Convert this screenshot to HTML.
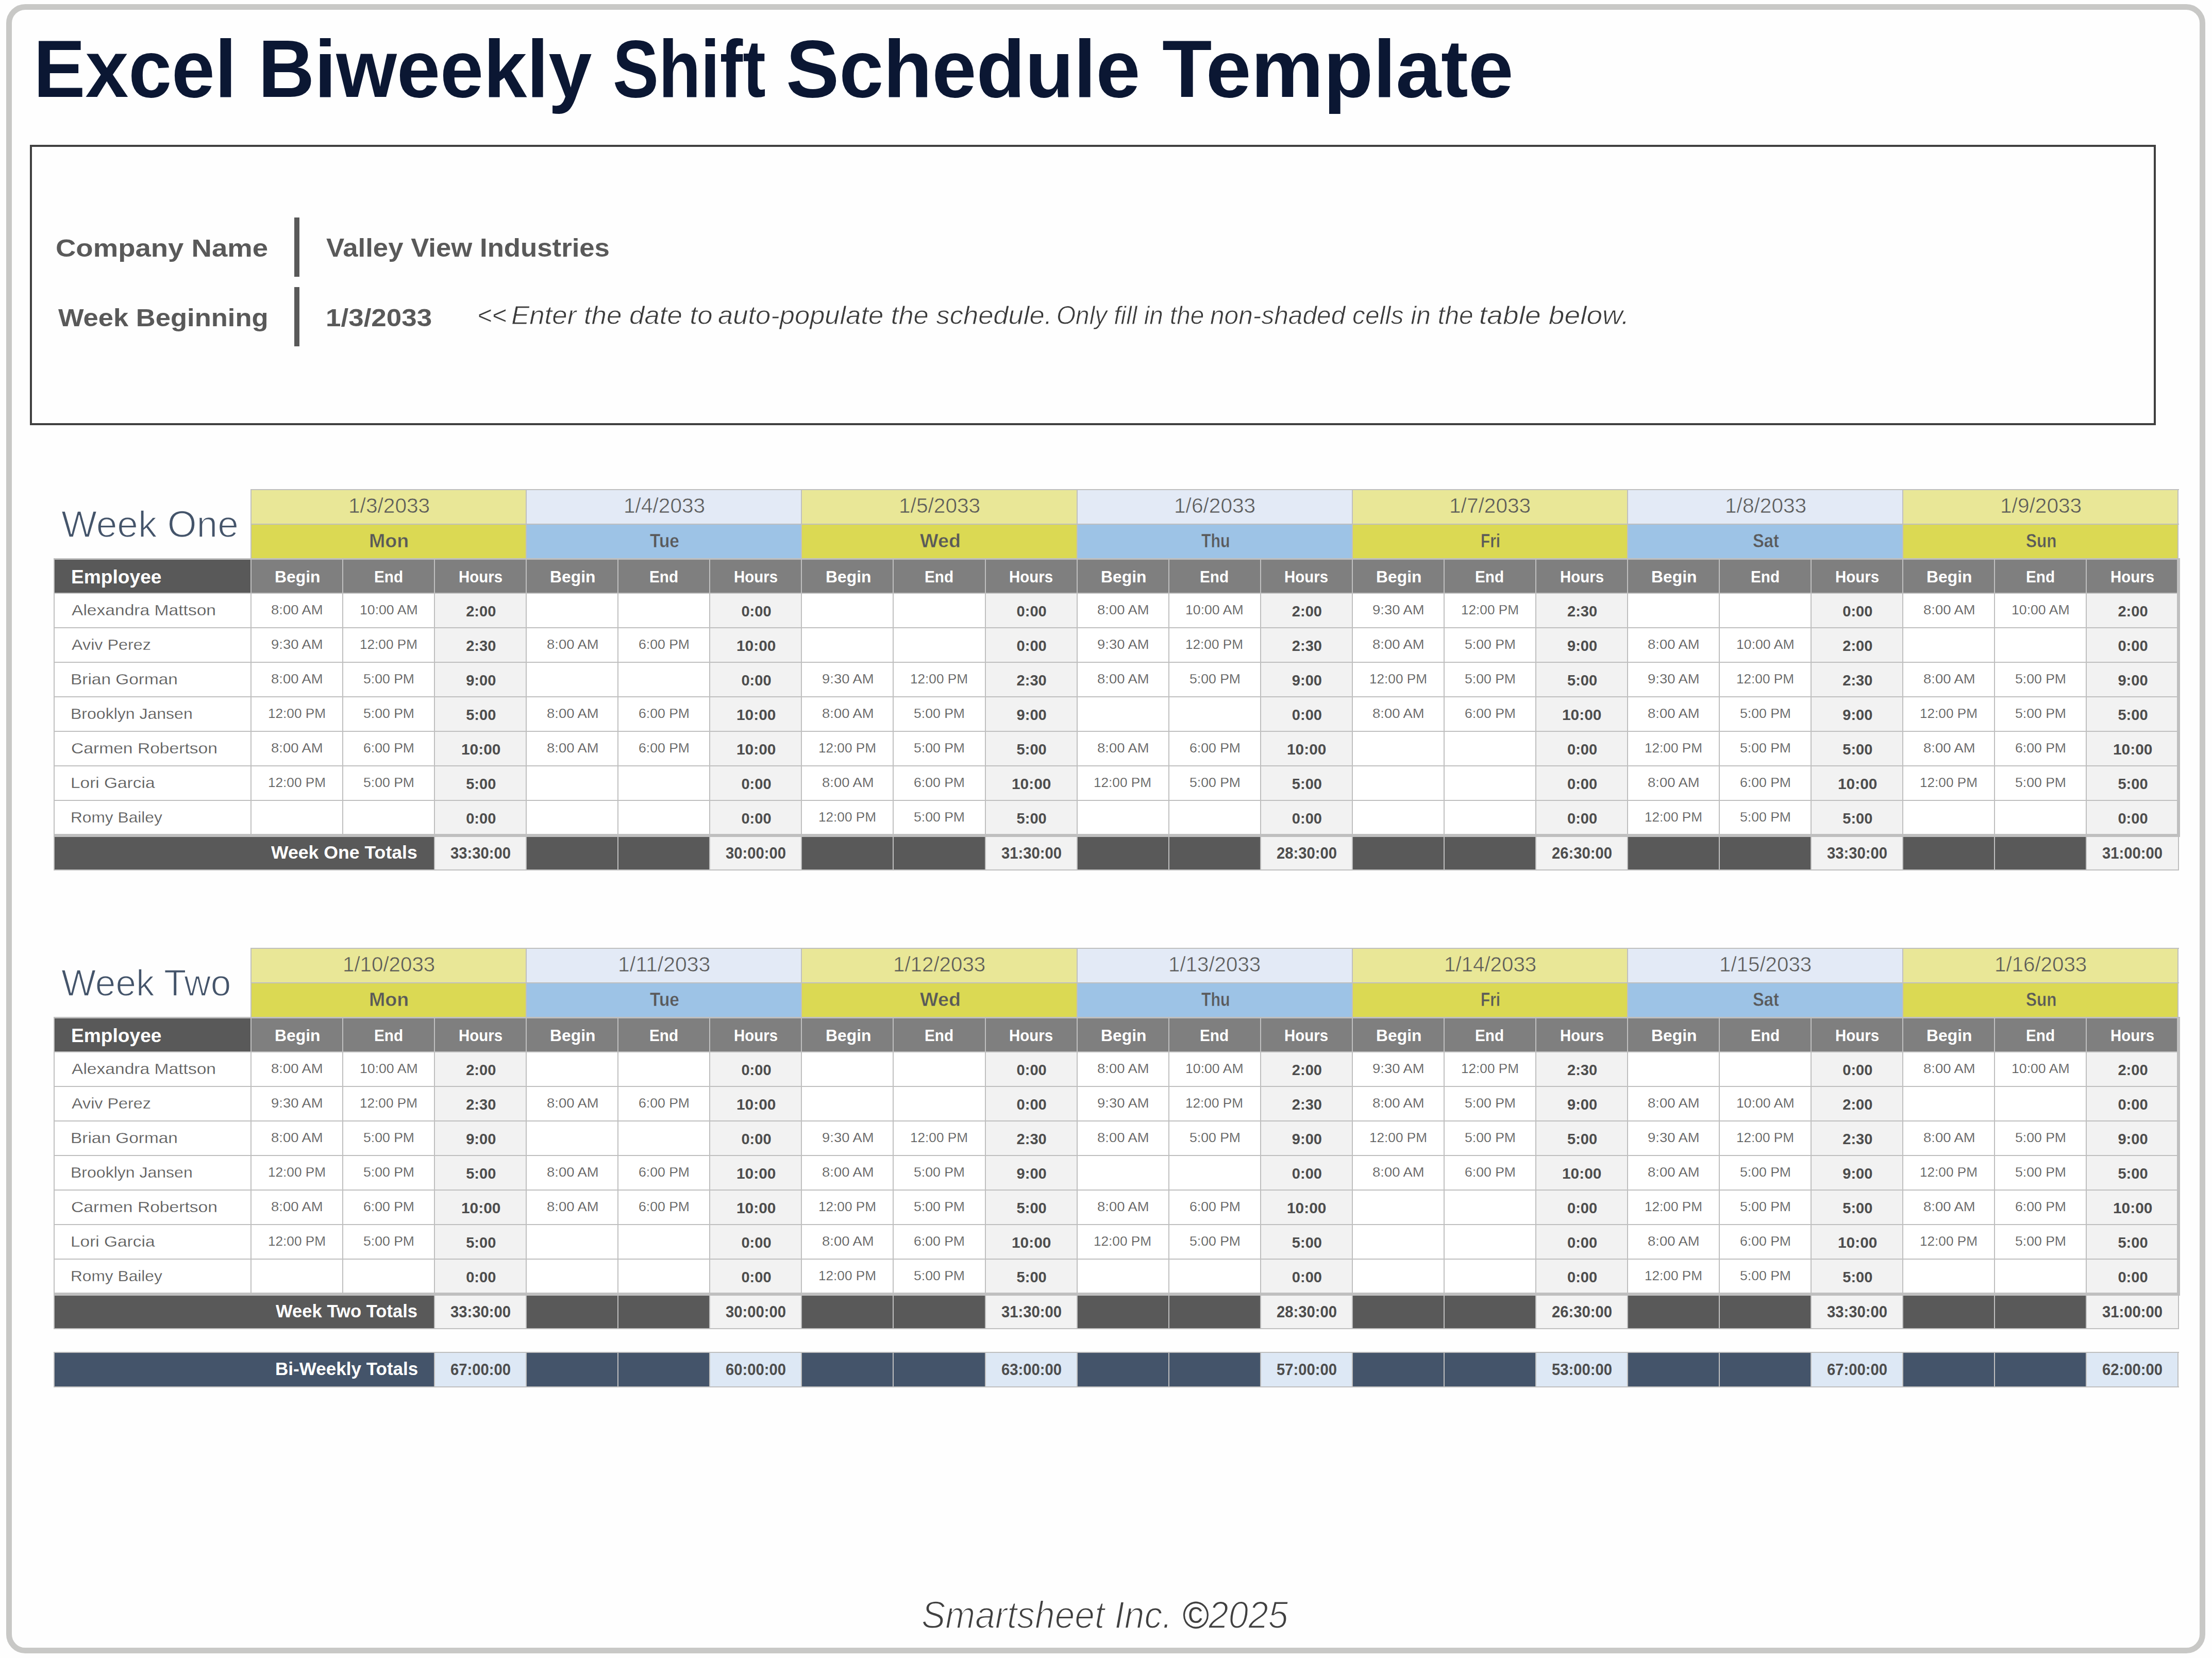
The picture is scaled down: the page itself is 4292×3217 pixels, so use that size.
<!DOCTYPE html>
<html><head><meta charset="utf-8"><title>Excel Biweekly Shift Schedule Template</title>
<style>
html,body{margin:0;padding:0;}
body{width:4292px;height:3217px;position:relative;overflow:hidden;background:#fefefe;font-family:"Liberation Sans",sans-serif;}
.a{position:absolute;}
.t{position:absolute;white-space:nowrap;transform-origin:0 0;}
</style></head><body>
<div class="a" style="left:12px;top:8px;width:4267px;height:3200px;box-sizing:border-box;border:11px solid #c8c8c6;border-radius:37px;"></div>
<div class="t" style="left:64.80px;top:55.00px;font-size:156.98px;line-height:156.98px;color:#0b1733;font-weight:700;transform:scaleX(0.9599);">Excel</div>
<div class="t" style="left:500.56px;top:55.00px;font-size:156.98px;line-height:156.98px;color:#0b1733;font-weight:700;transform:scaleX(0.9637);">Biweekly</div>
<div class="t" style="left:1189.05px;top:55.00px;font-size:156.98px;line-height:156.98px;color:#0b1733;font-weight:700;transform:scaleX(0.8506);">Shift</div>
<div class="t" style="left:1525.37px;top:55.00px;font-size:156.98px;line-height:156.98px;color:#0b1733;font-weight:700;transform:scaleX(0.9850);">Schedule</div>
<div class="t" style="left:2254.99px;top:55.00px;font-size:156.98px;line-height:156.98px;color:#0b1733;font-weight:700;transform:scaleX(1.0060);">Template</div>
<div class="a" style="left:58px;top:281px;width:4125px;height:544px;box-sizing:border-box;border:4px solid #404040;"></div>
<div class="t" style="left:107.73px;top:458.00px;font-size:47.97px;line-height:47.97px;color:#595959;font-weight:700;transform:scaleX(1.1365);">Company Name</div>
<div class="t" style="left:113.00px;top:593.00px;font-size:47.97px;line-height:47.97px;color:#595959;font-weight:700;transform:scaleX(1.0949);">Week Beginning</div>
<div class="a" style="left:571px;top:422px;width:10px;height:115px;background:#595959;"></div>
<div class="a" style="left:571px;top:557px;width:10px;height:115px;background:#595959;"></div>
<div class="t" style="left:632.50px;top:456.00px;font-size:49.42px;line-height:49.42px;color:#595959;font-weight:700;transform:scaleX(1.0671);">Valley View Industries</div>
<div class="t" style="left:632.29px;top:593.00px;font-size:47.97px;line-height:47.97px;color:#595959;font-weight:700;transform:scaleX(1.1044);">1/3/2033</div>
<div class="t" style="left:925.61px;top:588.40px;font-size:49.13px;line-height:49.13px;color:#3a3a3a;font-style:italic;transform:scaleX(0.9962);-webkit-text-stroke:0.8px #fefefe;">&lt;&lt;</div>
<div class="t" style="left:991.92px;top:588.40px;font-size:49.13px;line-height:49.13px;color:#3a3a3a;font-style:italic;transform:scaleX(1.0753);-webkit-text-stroke:0.8px #fefefe;">Enter the date to</div>
<div class="t" style="left:1392.93px;top:588.40px;font-size:49.13px;line-height:49.13px;color:#3a3a3a;font-style:italic;transform:scaleX(1.0691);-webkit-text-stroke:0.8px #fefefe;">auto-populate the schedule.</div>
<div class="t" style="left:2049.89px;top:588.40px;font-size:49.13px;line-height:49.13px;color:#3a3a3a;font-style:italic;transform:scaleX(0.9710);-webkit-text-stroke:0.8px #fefefe;">Only fill in the</div>
<div class="t" style="left:2348.19px;top:588.40px;font-size:49.13px;line-height:49.13px;color:#3a3a3a;font-style:italic;transform:scaleX(1.0109);-webkit-text-stroke:0.8px #fefefe;">non-shaded cells in the</div>
<div class="t" style="left:2870.16px;top:588.40px;font-size:49.13px;line-height:49.13px;color:#3a3a3a;font-style:italic;transform:scaleX(1.1223);-webkit-text-stroke:0.8px #fefefe;">table below.</div>
<div class="t" style="left:1787.65px;top:3096.40px;font-size:75.00px;line-height:75.00px;color:#404040;font-style:italic;transform:scaleX(0.9262);-webkit-text-stroke:2.0px #fefefe;">Smartsheet Inc. <span style="-webkit-text-stroke:0">©</span>2025</div>
<div class="a" style="left:487px;top:950px;width:534.21px;height:67px;background:#e9e797;"></div>
<div class="a" style="left:487px;top:1017px;width:534.21px;height:67px;background:#dbd953;"></div>
<div class="a" style="left:1021.21px;top:950px;width:534.21px;height:67px;background:#e3eaf6;"></div>
<div class="a" style="left:1021.21px;top:1017px;width:534.21px;height:67px;background:#9dc3e6;"></div>
<div class="a" style="left:1555.42px;top:950px;width:534.21px;height:67px;background:#e9e797;"></div>
<div class="a" style="left:1555.42px;top:1017px;width:534.21px;height:67px;background:#dbd953;"></div>
<div class="a" style="left:2089.63px;top:950px;width:534.21px;height:67px;background:#e3eaf6;"></div>
<div class="a" style="left:2089.63px;top:1017px;width:534.21px;height:67px;background:#9dc3e6;"></div>
<div class="a" style="left:2623.84px;top:950px;width:534.21px;height:67px;background:#e9e797;"></div>
<div class="a" style="left:2623.84px;top:1017px;width:534.21px;height:67px;background:#dbd953;"></div>
<div class="a" style="left:3158.05px;top:950px;width:534.21px;height:67px;background:#e3eaf6;"></div>
<div class="a" style="left:3158.05px;top:1017px;width:534.21px;height:67px;background:#9dc3e6;"></div>
<div class="a" style="left:3692.26px;top:950px;width:534.21px;height:67px;background:#e9e797;"></div>
<div class="a" style="left:3692.26px;top:1017px;width:534.21px;height:67px;background:#dbd953;"></div>
<div class="a" style="left:105px;top:1084px;width:382px;height:67px;background:#595959;"></div>
<div class="a" style="left:487px;top:1084px;width:3740px;height:67px;background:#7f7f7f;"></div>
<div class="a" style="left:105px;top:1151px;width:4122px;height:469.5px;background:#ffffff;"></div>
<div class="a" style="left:843.14px;top:1151px;width:178.07px;height:469.5px;background:#f2f2f2;"></div>
<div class="a" style="left:1377.35px;top:1151px;width:178.07px;height:469.5px;background:#f2f2f2;"></div>
<div class="a" style="left:1911.56px;top:1151px;width:178.07px;height:469.5px;background:#f2f2f2;"></div>
<div class="a" style="left:2445.77px;top:1151px;width:178.07px;height:469.5px;background:#f2f2f2;"></div>
<div class="a" style="left:2979.98px;top:1151px;width:178.07px;height:469.5px;background:#f2f2f2;"></div>
<div class="a" style="left:3514.19px;top:1151px;width:178.07px;height:469.5px;background:#f2f2f2;"></div>
<div class="a" style="left:4048.4px;top:1151px;width:178.07px;height:469.5px;background:#f2f2f2;"></div>
<div class="a" style="left:105px;top:1620.5px;width:4122px;height:67.5px;background:#595959;"></div>
<div class="a" style="left:843.14px;top:1620.5px;width:178.07px;height:67.5px;background:#f2f2f2;"></div>
<div class="a" style="left:1377.35px;top:1620.5px;width:178.07px;height:67.5px;background:#f2f2f2;"></div>
<div class="a" style="left:1911.56px;top:1620.5px;width:178.07px;height:67.5px;background:#f2f2f2;"></div>
<div class="a" style="left:2445.77px;top:1620.5px;width:178.07px;height:67.5px;background:#f2f2f2;"></div>
<div class="a" style="left:2979.98px;top:1620.5px;width:178.07px;height:67.5px;background:#f2f2f2;"></div>
<div class="a" style="left:3514.19px;top:1620.5px;width:178.07px;height:67.5px;background:#f2f2f2;"></div>
<div class="a" style="left:4048.4px;top:1620.5px;width:178.07px;height:67.5px;background:#f2f2f2;"></div>
<div class="a" style="left:486px;top:949px;width:3742px;height:2px;background:#bfbfbf;"></div>
<div class="a" style="left:486px;top:1016px;width:3742px;height:2px;background:#bfbfbf;"></div>
<div class="a" style="left:104px;top:1083px;width:4124px;height:3px;background:#bfbfbf;"></div>
<div class="a" style="left:104px;top:1150px;width:4124px;height:2px;background:#bfbfbf;"></div>
<div class="a" style="left:104px;top:1217px;width:4124px;height:2px;background:#bfbfbf;"></div>
<div class="a" style="left:104px;top:1284px;width:4124px;height:2px;background:#bfbfbf;"></div>
<div class="a" style="left:104px;top:1351px;width:4124px;height:2px;background:#bfbfbf;"></div>
<div class="a" style="left:104px;top:1418px;width:4124px;height:2px;background:#bfbfbf;"></div>
<div class="a" style="left:104px;top:1485px;width:4124px;height:2px;background:#bfbfbf;"></div>
<div class="a" style="left:104px;top:1552px;width:4124px;height:2px;background:#bfbfbf;"></div>
<div class="a" style="left:104px;top:1617.5px;width:4126px;height:6.5px;background:#bfbfbf;"></div>
<div class="a" style="left:104px;top:1687px;width:4124px;height:2px;background:#bfbfbf;"></div>
<div class="a" style="left:104px;top:1083px;width:2px;height:606px;background:#bfbfbf;"></div>
<div class="a" style="left:486px;top:949px;width:2px;height:135px;background:#bfbfbf;"></div>
<div class="a" style="left:1020.21px;top:949px;width:2px;height:135px;background:#bfbfbf;"></div>
<div class="a" style="left:1554.42px;top:949px;width:2px;height:135px;background:#bfbfbf;"></div>
<div class="a" style="left:2088.63px;top:949px;width:2px;height:135px;background:#bfbfbf;"></div>
<div class="a" style="left:2622.84px;top:949px;width:2px;height:135px;background:#bfbfbf;"></div>
<div class="a" style="left:3157.05px;top:949px;width:2px;height:135px;background:#bfbfbf;"></div>
<div class="a" style="left:3691.26px;top:949px;width:2px;height:135px;background:#bfbfbf;"></div>
<div class="a" style="left:4225.47px;top:949px;width:2px;height:135px;background:#bfbfbf;"></div>
<div class="a" style="left:486px;top:1084px;width:2px;height:536.5px;background:#bfbfbf;"></div>
<div class="a" style="left:664.07px;top:1084px;width:2px;height:536.5px;background:#bfbfbf;"></div>
<div class="a" style="left:842.14px;top:1084px;width:2px;height:604px;background:#bfbfbf;"></div>
<div class="a" style="left:1020.21px;top:1084px;width:2px;height:604px;background:#bfbfbf;"></div>
<div class="a" style="left:1198.28px;top:1084px;width:2px;height:604px;background:#bfbfbf;"></div>
<div class="a" style="left:1376.35px;top:1084px;width:2px;height:604px;background:#bfbfbf;"></div>
<div class="a" style="left:1554.42px;top:1084px;width:2px;height:604px;background:#bfbfbf;"></div>
<div class="a" style="left:1732.49px;top:1084px;width:2px;height:604px;background:#bfbfbf;"></div>
<div class="a" style="left:1910.56px;top:1084px;width:2px;height:604px;background:#bfbfbf;"></div>
<div class="a" style="left:2088.63px;top:1084px;width:2px;height:604px;background:#bfbfbf;"></div>
<div class="a" style="left:2266.7px;top:1084px;width:2px;height:604px;background:#bfbfbf;"></div>
<div class="a" style="left:2444.77px;top:1084px;width:2px;height:604px;background:#bfbfbf;"></div>
<div class="a" style="left:2622.84px;top:1084px;width:2px;height:604px;background:#bfbfbf;"></div>
<div class="a" style="left:2800.91px;top:1084px;width:2px;height:604px;background:#bfbfbf;"></div>
<div class="a" style="left:2978.98px;top:1084px;width:2px;height:604px;background:#bfbfbf;"></div>
<div class="a" style="left:3157.05px;top:1084px;width:2px;height:604px;background:#bfbfbf;"></div>
<div class="a" style="left:3335.12px;top:1084px;width:2px;height:604px;background:#bfbfbf;"></div>
<div class="a" style="left:3513.19px;top:1084px;width:2px;height:604px;background:#bfbfbf;"></div>
<div class="a" style="left:3691.26px;top:1084px;width:2px;height:604px;background:#bfbfbf;"></div>
<div class="a" style="left:3869.33px;top:1084px;width:2px;height:604px;background:#bfbfbf;"></div>
<div class="a" style="left:4047.4px;top:1084px;width:2px;height:604px;background:#bfbfbf;"></div>
<div class="a" style="left:4224px;top:1083px;width:6px;height:539.5px;background:#bfbfbf;"></div>
<div class="a" style="left:4226px;top:1620.5px;width:2px;height:68.5px;background:#bfbfbf;"></div>
<div class="t" style="left:119.20px;top:981.20px;font-size:72.09px;line-height:72.09px;color:#44546a;transform:scaleX(1.0137);-webkit-text-stroke:1.6px #fefefe;">Week One</div>
<div class="t" style="left:675.57px;top:962.30px;font-size:40.12px;line-height:40.12px;color:#595959;transform:scaleX(1.0132);-webkit-text-stroke:0.6px #e9e797;">1/3/2033</div>
<div class="t" style="left:716.28px;top:1032.25px;font-size:36.34px;line-height:36.34px;color:#595959;font-weight:700;transform:scaleX(1.0352);-webkit-text-stroke:0.5px #dbd953;">Mon</div>
<div class="t" style="left:533.20px;top:1103.50px;font-size:30.52px;line-height:30.52px;color:#ffffff;font-weight:700;transform:scaleX(1.0432);">Begin</div>
<div class="t" style="left:725.56px;top:1103.50px;font-size:30.52px;line-height:30.52px;color:#ffffff;font-weight:700;transform:scaleX(0.9741);">End</div>
<div class="t" style="left:889.85px;top:1103.50px;font-size:30.52px;line-height:30.52px;color:#ffffff;font-weight:700;transform:scaleX(0.9647);">Hours</div>
<div class="t" style="left:1209.78px;top:962.30px;font-size:40.12px;line-height:40.12px;color:#595959;transform:scaleX(1.0132);-webkit-text-stroke:0.6px #e3eaf6;">1/4/2033</div>
<div class="t" style="left:1261.27px;top:1032.25px;font-size:36.34px;line-height:36.34px;color:#595959;font-weight:700;transform:scaleX(0.9197);-webkit-text-stroke:0.5px #9dc3e6;">Tue</div>
<div class="t" style="left:1067.41px;top:1103.50px;font-size:30.52px;line-height:30.52px;color:#ffffff;font-weight:700;transform:scaleX(1.0432);">Begin</div>
<div class="t" style="left:1259.77px;top:1103.50px;font-size:30.52px;line-height:30.52px;color:#ffffff;font-weight:700;transform:scaleX(0.9741);">End</div>
<div class="t" style="left:1424.06px;top:1103.50px;font-size:30.52px;line-height:30.52px;color:#ffffff;font-weight:700;transform:scaleX(0.9647);">Hours</div>
<div class="t" style="left:1743.99px;top:962.30px;font-size:40.12px;line-height:40.12px;color:#595959;transform:scaleX(1.0132);-webkit-text-stroke:0.6px #e9e797;">1/5/2033</div>
<div class="t" style="left:1785.08px;top:1032.25px;font-size:36.34px;line-height:36.34px;color:#595959;font-weight:700;transform:scaleX(1.0392);-webkit-text-stroke:0.5px #dbd953;">Wed</div>
<div class="t" style="left:1601.62px;top:1103.50px;font-size:30.52px;line-height:30.52px;color:#ffffff;font-weight:700;transform:scaleX(1.0432);">Begin</div>
<div class="t" style="left:1793.98px;top:1103.50px;font-size:30.52px;line-height:30.52px;color:#ffffff;font-weight:700;transform:scaleX(0.9741);">End</div>
<div class="t" style="left:1958.27px;top:1103.50px;font-size:30.52px;line-height:30.52px;color:#ffffff;font-weight:700;transform:scaleX(0.9647);">Hours</div>
<div class="t" style="left:2278.20px;top:962.30px;font-size:40.12px;line-height:40.12px;color:#595959;transform:scaleX(1.0132);-webkit-text-stroke:0.6px #e3eaf6;">1/6/2033</div>
<div class="t" style="left:2330.99px;top:1032.25px;font-size:36.34px;line-height:36.34px;color:#595959;font-weight:700;transform:scaleX(0.8359);-webkit-text-stroke:0.5px #9dc3e6;">Thu</div>
<div class="t" style="left:2135.83px;top:1103.50px;font-size:30.52px;line-height:30.52px;color:#ffffff;font-weight:700;transform:scaleX(1.0432);">Begin</div>
<div class="t" style="left:2328.19px;top:1103.50px;font-size:30.52px;line-height:30.52px;color:#ffffff;font-weight:700;transform:scaleX(0.9741);">End</div>
<div class="t" style="left:2492.48px;top:1103.50px;font-size:30.52px;line-height:30.52px;color:#ffffff;font-weight:700;transform:scaleX(0.9647);">Hours</div>
<div class="t" style="left:2812.41px;top:962.30px;font-size:40.12px;line-height:40.12px;color:#595959;transform:scaleX(1.0132);-webkit-text-stroke:0.6px #e9e797;">1/7/2033</div>
<div class="t" style="left:2873.05px;top:1032.25px;font-size:36.34px;line-height:36.34px;color:#595959;font-weight:700;transform:scaleX(0.8214);-webkit-text-stroke:0.5px #dbd953;">Fri</div>
<div class="t" style="left:2670.04px;top:1103.50px;font-size:30.52px;line-height:30.52px;color:#ffffff;font-weight:700;transform:scaleX(1.0432);">Begin</div>
<div class="t" style="left:2862.40px;top:1103.50px;font-size:30.52px;line-height:30.52px;color:#ffffff;font-weight:700;transform:scaleX(0.9741);">End</div>
<div class="t" style="left:3026.69px;top:1103.50px;font-size:30.52px;line-height:30.52px;color:#ffffff;font-weight:700;transform:scaleX(0.9647);">Hours</div>
<div class="t" style="left:3346.62px;top:962.30px;font-size:40.12px;line-height:40.12px;color:#595959;transform:scaleX(1.0132);-webkit-text-stroke:0.6px #e3eaf6;">1/8/2033</div>
<div class="t" style="left:3400.50px;top:1032.25px;font-size:36.34px;line-height:36.34px;color:#595959;font-weight:700;transform:scaleX(0.9000);-webkit-text-stroke:0.5px #9dc3e6;">Sat</div>
<div class="t" style="left:3204.25px;top:1103.50px;font-size:30.52px;line-height:30.52px;color:#ffffff;font-weight:700;transform:scaleX(1.0432);">Begin</div>
<div class="t" style="left:3396.61px;top:1103.50px;font-size:30.52px;line-height:30.52px;color:#ffffff;font-weight:700;transform:scaleX(0.9741);">End</div>
<div class="t" style="left:3560.90px;top:1103.50px;font-size:30.52px;line-height:30.52px;color:#ffffff;font-weight:700;transform:scaleX(0.9647);">Hours</div>
<div class="t" style="left:3880.83px;top:962.30px;font-size:40.12px;line-height:40.12px;color:#595959;transform:scaleX(1.0132);-webkit-text-stroke:0.6px #e9e797;">1/9/2033</div>
<div class="t" style="left:3930.95px;top:1032.25px;font-size:36.34px;line-height:36.34px;color:#595959;font-weight:700;transform:scaleX(0.8652);-webkit-text-stroke:0.5px #dbd953;">Sun</div>
<div class="t" style="left:3738.46px;top:1103.50px;font-size:30.52px;line-height:30.52px;color:#ffffff;font-weight:700;transform:scaleX(1.0432);">Begin</div>
<div class="t" style="left:3930.82px;top:1103.50px;font-size:30.52px;line-height:30.52px;color:#ffffff;font-weight:700;transform:scaleX(0.9741);">End</div>
<div class="t" style="left:4095.11px;top:1103.50px;font-size:30.52px;line-height:30.52px;color:#ffffff;font-weight:700;transform:scaleX(0.9647);">Hours</div>
<div class="t" style="left:137.53px;top:1101.00px;font-size:37.79px;line-height:37.79px;color:#ffffff;font-weight:700;transform:scaleX(0.9829);">Employee</div>
<div class="t" style="left:139.35px;top:1168.75px;font-size:29.51px;line-height:29.51px;color:#595959;transform:scaleX(1.1385);-webkit-text-stroke:0.3px #ffffff;">Alexandra Mattson</div>
<div class="t" style="left:526.38px;top:1169.53px;font-size:26.53px;line-height:26.53px;color:#595959;transform:scaleX(1.0346);-webkit-text-stroke:0.25px #ffffff;">8:00 AM</div>
<div class="t" style="left:697.82px;top:1169.53px;font-size:26.53px;line-height:26.53px;color:#595959;transform:scaleX(1.0051);-webkit-text-stroke:0.25px #ffffff;">10:00 AM</div>
<div class="t" style="left:904.17px;top:1172.00px;font-size:29.07px;line-height:29.07px;color:#4d4d4d;font-weight:700;">2:00</div>
<div class="t" style="left:1438.38px;top:1172.00px;font-size:29.07px;line-height:29.07px;color:#4d4d4d;font-weight:700;">0:00</div>
<div class="t" style="left:1972.60px;top:1172.00px;font-size:29.07px;line-height:29.07px;color:#4d4d4d;font-weight:700;">0:00</div>
<div class="t" style="left:2129.01px;top:1169.53px;font-size:26.53px;line-height:26.53px;color:#595959;transform:scaleX(1.0346);-webkit-text-stroke:0.25px #ffffff;">8:00 AM</div>
<div class="t" style="left:2300.45px;top:1169.53px;font-size:26.53px;line-height:26.53px;color:#595959;transform:scaleX(1.0051);-webkit-text-stroke:0.25px #ffffff;">10:00 AM</div>
<div class="t" style="left:2506.81px;top:1172.00px;font-size:29.07px;line-height:29.07px;color:#4d4d4d;font-weight:700;">2:00</div>
<div class="t" style="left:2663.22px;top:1169.53px;font-size:26.53px;line-height:26.53px;color:#595959;transform:scaleX(1.0346);-webkit-text-stroke:0.25px #ffffff;">9:30 AM</div>
<div class="t" style="left:2834.70px;top:1169.53px;font-size:26.53px;line-height:26.53px;color:#595959;transform:scaleX(0.9868);-webkit-text-stroke:0.25px #ffffff;">12:00 PM</div>
<div class="t" style="left:3041.01px;top:1172.00px;font-size:29.07px;line-height:29.07px;color:#4d4d4d;font-weight:700;">2:30</div>
<div class="t" style="left:3575.22px;top:1172.00px;font-size:29.07px;line-height:29.07px;color:#4d4d4d;font-weight:700;">0:00</div>
<div class="t" style="left:3731.64px;top:1169.53px;font-size:26.53px;line-height:26.53px;color:#595959;transform:scaleX(1.0346);-webkit-text-stroke:0.25px #ffffff;">8:00 AM</div>
<div class="t" style="left:3903.08px;top:1169.53px;font-size:26.53px;line-height:26.53px;color:#595959;transform:scaleX(1.0051);-webkit-text-stroke:0.25px #ffffff;">10:00 AM</div>
<div class="t" style="left:4109.43px;top:1172.00px;font-size:29.07px;line-height:29.07px;color:#4d4d4d;font-weight:700;">2:00</div>
<div class="t" style="left:139.35px;top:1235.75px;font-size:29.51px;line-height:29.51px;color:#595959;transform:scaleX(1.0957);-webkit-text-stroke:0.3px #ffffff;">Aviv Perez</div>
<div class="t" style="left:526.38px;top:1236.53px;font-size:26.53px;line-height:26.53px;color:#595959;transform:scaleX(1.0346);-webkit-text-stroke:0.25px #ffffff;">9:30 AM</div>
<div class="t" style="left:697.86px;top:1236.53px;font-size:26.53px;line-height:26.53px;color:#595959;transform:scaleX(0.9868);-webkit-text-stroke:0.25px #ffffff;">12:00 PM</div>
<div class="t" style="left:904.17px;top:1239.00px;font-size:29.07px;line-height:29.07px;color:#4d4d4d;font-weight:700;">2:30</div>
<div class="t" style="left:1060.59px;top:1236.53px;font-size:26.53px;line-height:26.53px;color:#595959;transform:scaleX(1.0346);-webkit-text-stroke:0.25px #ffffff;">8:00 AM</div>
<div class="t" style="left:1239.19px;top:1236.53px;font-size:26.53px;line-height:26.53px;color:#595959;transform:scaleX(1.0026);-webkit-text-stroke:0.25px #ffffff;">6:00 PM</div>
<div class="t" style="left:1428.83px;top:1239.00px;font-size:29.07px;line-height:29.07px;color:#4d4d4d;font-weight:700;transform:scaleX(1.0282);">10:00</div>
<div class="t" style="left:1972.60px;top:1239.00px;font-size:29.07px;line-height:29.07px;color:#4d4d4d;font-weight:700;">0:00</div>
<div class="t" style="left:2129.01px;top:1236.53px;font-size:26.53px;line-height:26.53px;color:#595959;transform:scaleX(1.0346);-webkit-text-stroke:0.25px #ffffff;">9:30 AM</div>
<div class="t" style="left:2300.49px;top:1236.53px;font-size:26.53px;line-height:26.53px;color:#595959;transform:scaleX(0.9868);-webkit-text-stroke:0.25px #ffffff;">12:00 PM</div>
<div class="t" style="left:2506.81px;top:1239.00px;font-size:29.07px;line-height:29.07px;color:#4d4d4d;font-weight:700;">2:30</div>
<div class="t" style="left:2663.22px;top:1236.53px;font-size:26.53px;line-height:26.53px;color:#595959;transform:scaleX(1.0346);-webkit-text-stroke:0.25px #ffffff;">8:00 AM</div>
<div class="t" style="left:2841.82px;top:1236.53px;font-size:26.53px;line-height:26.53px;color:#595959;transform:scaleX(1.0026);-webkit-text-stroke:0.25px #ffffff;">5:00 PM</div>
<div class="t" style="left:3041.01px;top:1239.00px;font-size:29.07px;line-height:29.07px;color:#4d4d4d;font-weight:700;">9:00</div>
<div class="t" style="left:3197.43px;top:1236.53px;font-size:26.53px;line-height:26.53px;color:#595959;transform:scaleX(1.0346);-webkit-text-stroke:0.25px #ffffff;">8:00 AM</div>
<div class="t" style="left:3368.87px;top:1236.53px;font-size:26.53px;line-height:26.53px;color:#595959;transform:scaleX(1.0051);-webkit-text-stroke:0.25px #ffffff;">10:00 AM</div>
<div class="t" style="left:3575.22px;top:1239.00px;font-size:29.07px;line-height:29.07px;color:#4d4d4d;font-weight:700;">2:00</div>
<div class="t" style="left:4109.43px;top:1239.00px;font-size:29.07px;line-height:29.07px;color:#4d4d4d;font-weight:700;">0:00</div>
<div class="t" style="left:137.09px;top:1302.75px;font-size:29.51px;line-height:29.51px;color:#595959;transform:scaleX(1.1322);-webkit-text-stroke:0.3px #ffffff;">Brian Gorman</div>
<div class="t" style="left:526.38px;top:1303.53px;font-size:26.53px;line-height:26.53px;color:#595959;transform:scaleX(1.0346);-webkit-text-stroke:0.25px #ffffff;">8:00 AM</div>
<div class="t" style="left:704.98px;top:1303.53px;font-size:26.53px;line-height:26.53px;color:#595959;transform:scaleX(1.0026);-webkit-text-stroke:0.25px #ffffff;">5:00 PM</div>
<div class="t" style="left:904.17px;top:1306.00px;font-size:29.07px;line-height:29.07px;color:#4d4d4d;font-weight:700;">9:00</div>
<div class="t" style="left:1438.38px;top:1306.00px;font-size:29.07px;line-height:29.07px;color:#4d4d4d;font-weight:700;">0:00</div>
<div class="t" style="left:1594.80px;top:1303.53px;font-size:26.53px;line-height:26.53px;color:#595959;transform:scaleX(1.0346);-webkit-text-stroke:0.25px #ffffff;">9:30 AM</div>
<div class="t" style="left:1766.28px;top:1303.53px;font-size:26.53px;line-height:26.53px;color:#595959;transform:scaleX(0.9868);-webkit-text-stroke:0.25px #ffffff;">12:00 PM</div>
<div class="t" style="left:1972.60px;top:1306.00px;font-size:29.07px;line-height:29.07px;color:#4d4d4d;font-weight:700;">2:30</div>
<div class="t" style="left:2129.01px;top:1303.53px;font-size:26.53px;line-height:26.53px;color:#595959;transform:scaleX(1.0346);-webkit-text-stroke:0.25px #ffffff;">8:00 AM</div>
<div class="t" style="left:2307.61px;top:1303.53px;font-size:26.53px;line-height:26.53px;color:#595959;transform:scaleX(1.0026);-webkit-text-stroke:0.25px #ffffff;">5:00 PM</div>
<div class="t" style="left:2506.81px;top:1306.00px;font-size:29.07px;line-height:29.07px;color:#4d4d4d;font-weight:700;">9:00</div>
<div class="t" style="left:2656.63px;top:1303.53px;font-size:26.53px;line-height:26.53px;color:#595959;transform:scaleX(0.9868);-webkit-text-stroke:0.25px #ffffff;">12:00 PM</div>
<div class="t" style="left:2841.82px;top:1303.53px;font-size:26.53px;line-height:26.53px;color:#595959;transform:scaleX(1.0026);-webkit-text-stroke:0.25px #ffffff;">5:00 PM</div>
<div class="t" style="left:3041.01px;top:1306.00px;font-size:29.07px;line-height:29.07px;color:#4d4d4d;font-weight:700;">5:00</div>
<div class="t" style="left:3197.43px;top:1303.53px;font-size:26.53px;line-height:26.53px;color:#595959;transform:scaleX(1.0346);-webkit-text-stroke:0.25px #ffffff;">9:30 AM</div>
<div class="t" style="left:3368.91px;top:1303.53px;font-size:26.53px;line-height:26.53px;color:#595959;transform:scaleX(0.9868);-webkit-text-stroke:0.25px #ffffff;">12:00 PM</div>
<div class="t" style="left:3575.22px;top:1306.00px;font-size:29.07px;line-height:29.07px;color:#4d4d4d;font-weight:700;">2:30</div>
<div class="t" style="left:3731.64px;top:1303.53px;font-size:26.53px;line-height:26.53px;color:#595959;transform:scaleX(1.0346);-webkit-text-stroke:0.25px #ffffff;">8:00 AM</div>
<div class="t" style="left:3910.24px;top:1303.53px;font-size:26.53px;line-height:26.53px;color:#595959;transform:scaleX(1.0026);-webkit-text-stroke:0.25px #ffffff;">5:00 PM</div>
<div class="t" style="left:4109.43px;top:1306.00px;font-size:29.07px;line-height:29.07px;color:#4d4d4d;font-weight:700;">9:00</div>
<div class="t" style="left:137.18px;top:1369.75px;font-size:29.51px;line-height:29.51px;color:#595959;transform:scaleX(1.0855);-webkit-text-stroke:0.3px #ffffff;">Brooklyn Jansen</div>
<div class="t" style="left:519.79px;top:1370.53px;font-size:26.53px;line-height:26.53px;color:#595959;transform:scaleX(0.9868);-webkit-text-stroke:0.25px #ffffff;">12:00 PM</div>
<div class="t" style="left:704.98px;top:1370.53px;font-size:26.53px;line-height:26.53px;color:#595959;transform:scaleX(1.0026);-webkit-text-stroke:0.25px #ffffff;">5:00 PM</div>
<div class="t" style="left:904.17px;top:1373.00px;font-size:29.07px;line-height:29.07px;color:#4d4d4d;font-weight:700;">5:00</div>
<div class="t" style="left:1060.59px;top:1370.53px;font-size:26.53px;line-height:26.53px;color:#595959;transform:scaleX(1.0346);-webkit-text-stroke:0.25px #ffffff;">8:00 AM</div>
<div class="t" style="left:1239.19px;top:1370.53px;font-size:26.53px;line-height:26.53px;color:#595959;transform:scaleX(1.0026);-webkit-text-stroke:0.25px #ffffff;">6:00 PM</div>
<div class="t" style="left:1428.83px;top:1373.00px;font-size:29.07px;line-height:29.07px;color:#4d4d4d;font-weight:700;transform:scaleX(1.0282);">10:00</div>
<div class="t" style="left:1594.80px;top:1370.53px;font-size:26.53px;line-height:26.53px;color:#595959;transform:scaleX(1.0346);-webkit-text-stroke:0.25px #ffffff;">8:00 AM</div>
<div class="t" style="left:1773.40px;top:1370.53px;font-size:26.53px;line-height:26.53px;color:#595959;transform:scaleX(1.0026);-webkit-text-stroke:0.25px #ffffff;">5:00 PM</div>
<div class="t" style="left:1972.60px;top:1373.00px;font-size:29.07px;line-height:29.07px;color:#4d4d4d;font-weight:700;">9:00</div>
<div class="t" style="left:2506.81px;top:1373.00px;font-size:29.07px;line-height:29.07px;color:#4d4d4d;font-weight:700;">0:00</div>
<div class="t" style="left:2663.22px;top:1370.53px;font-size:26.53px;line-height:26.53px;color:#595959;transform:scaleX(1.0346);-webkit-text-stroke:0.25px #ffffff;">8:00 AM</div>
<div class="t" style="left:2841.82px;top:1370.53px;font-size:26.53px;line-height:26.53px;color:#595959;transform:scaleX(1.0026);-webkit-text-stroke:0.25px #ffffff;">6:00 PM</div>
<div class="t" style="left:3031.46px;top:1373.00px;font-size:29.07px;line-height:29.07px;color:#4d4d4d;font-weight:700;transform:scaleX(1.0282);">10:00</div>
<div class="t" style="left:3197.43px;top:1370.53px;font-size:26.53px;line-height:26.53px;color:#595959;transform:scaleX(1.0346);-webkit-text-stroke:0.25px #ffffff;">8:00 AM</div>
<div class="t" style="left:3376.03px;top:1370.53px;font-size:26.53px;line-height:26.53px;color:#595959;transform:scaleX(1.0026);-webkit-text-stroke:0.25px #ffffff;">5:00 PM</div>
<div class="t" style="left:3575.22px;top:1373.00px;font-size:29.07px;line-height:29.07px;color:#4d4d4d;font-weight:700;">9:00</div>
<div class="t" style="left:3725.05px;top:1370.53px;font-size:26.53px;line-height:26.53px;color:#595959;transform:scaleX(0.9868);-webkit-text-stroke:0.25px #ffffff;">12:00 PM</div>
<div class="t" style="left:3910.24px;top:1370.53px;font-size:26.53px;line-height:26.53px;color:#595959;transform:scaleX(1.0026);-webkit-text-stroke:0.25px #ffffff;">5:00 PM</div>
<div class="t" style="left:4109.43px;top:1373.00px;font-size:29.07px;line-height:29.07px;color:#4d4d4d;font-weight:700;">5:00</div>
<div class="t" style="left:138.21px;top:1436.75px;font-size:29.51px;line-height:29.51px;color:#595959;transform:scaleX(1.1394);-webkit-text-stroke:0.3px #ffffff;">Carmen Robertson</div>
<div class="t" style="left:526.38px;top:1437.53px;font-size:26.53px;line-height:26.53px;color:#595959;transform:scaleX(1.0346);-webkit-text-stroke:0.25px #ffffff;">8:00 AM</div>
<div class="t" style="left:704.98px;top:1437.53px;font-size:26.53px;line-height:26.53px;color:#595959;transform:scaleX(1.0026);-webkit-text-stroke:0.25px #ffffff;">6:00 PM</div>
<div class="t" style="left:894.62px;top:1440.00px;font-size:29.07px;line-height:29.07px;color:#4d4d4d;font-weight:700;transform:scaleX(1.0282);">10:00</div>
<div class="t" style="left:1060.59px;top:1437.53px;font-size:26.53px;line-height:26.53px;color:#595959;transform:scaleX(1.0346);-webkit-text-stroke:0.25px #ffffff;">8:00 AM</div>
<div class="t" style="left:1239.19px;top:1437.53px;font-size:26.53px;line-height:26.53px;color:#595959;transform:scaleX(1.0026);-webkit-text-stroke:0.25px #ffffff;">6:00 PM</div>
<div class="t" style="left:1428.83px;top:1440.00px;font-size:29.07px;line-height:29.07px;color:#4d4d4d;font-weight:700;transform:scaleX(1.0282);">10:00</div>
<div class="t" style="left:1588.21px;top:1437.53px;font-size:26.53px;line-height:26.53px;color:#595959;transform:scaleX(0.9868);-webkit-text-stroke:0.25px #ffffff;">12:00 PM</div>
<div class="t" style="left:1773.40px;top:1437.53px;font-size:26.53px;line-height:26.53px;color:#595959;transform:scaleX(1.0026);-webkit-text-stroke:0.25px #ffffff;">5:00 PM</div>
<div class="t" style="left:1972.60px;top:1440.00px;font-size:29.07px;line-height:29.07px;color:#4d4d4d;font-weight:700;">5:00</div>
<div class="t" style="left:2129.01px;top:1437.53px;font-size:26.53px;line-height:26.53px;color:#595959;transform:scaleX(1.0346);-webkit-text-stroke:0.25px #ffffff;">8:00 AM</div>
<div class="t" style="left:2307.61px;top:1437.53px;font-size:26.53px;line-height:26.53px;color:#595959;transform:scaleX(1.0026);-webkit-text-stroke:0.25px #ffffff;">6:00 PM</div>
<div class="t" style="left:2497.25px;top:1440.00px;font-size:29.07px;line-height:29.07px;color:#4d4d4d;font-weight:700;transform:scaleX(1.0282);">10:00</div>
<div class="t" style="left:3041.01px;top:1440.00px;font-size:29.07px;line-height:29.07px;color:#4d4d4d;font-weight:700;">0:00</div>
<div class="t" style="left:3190.84px;top:1437.53px;font-size:26.53px;line-height:26.53px;color:#595959;transform:scaleX(0.9868);-webkit-text-stroke:0.25px #ffffff;">12:00 PM</div>
<div class="t" style="left:3376.03px;top:1437.53px;font-size:26.53px;line-height:26.53px;color:#595959;transform:scaleX(1.0026);-webkit-text-stroke:0.25px #ffffff;">5:00 PM</div>
<div class="t" style="left:3575.22px;top:1440.00px;font-size:29.07px;line-height:29.07px;color:#4d4d4d;font-weight:700;">5:00</div>
<div class="t" style="left:3731.64px;top:1437.53px;font-size:26.53px;line-height:26.53px;color:#595959;transform:scaleX(1.0346);-webkit-text-stroke:0.25px #ffffff;">8:00 AM</div>
<div class="t" style="left:3910.24px;top:1437.53px;font-size:26.53px;line-height:26.53px;color:#595959;transform:scaleX(1.0026);-webkit-text-stroke:0.25px #ffffff;">6:00 PM</div>
<div class="t" style="left:4099.88px;top:1440.00px;font-size:29.07px;line-height:29.07px;color:#4d4d4d;font-weight:700;transform:scaleX(1.0282);">10:00</div>
<div class="t" style="left:137.08px;top:1503.75px;font-size:29.51px;line-height:29.51px;color:#595959;transform:scaleX(1.1331);-webkit-text-stroke:0.3px #ffffff;">Lori Garcia</div>
<div class="t" style="left:519.79px;top:1504.53px;font-size:26.53px;line-height:26.53px;color:#595959;transform:scaleX(0.9868);-webkit-text-stroke:0.25px #ffffff;">12:00 PM</div>
<div class="t" style="left:704.98px;top:1504.53px;font-size:26.53px;line-height:26.53px;color:#595959;transform:scaleX(1.0026);-webkit-text-stroke:0.25px #ffffff;">5:00 PM</div>
<div class="t" style="left:904.17px;top:1507.00px;font-size:29.07px;line-height:29.07px;color:#4d4d4d;font-weight:700;">5:00</div>
<div class="t" style="left:1438.38px;top:1507.00px;font-size:29.07px;line-height:29.07px;color:#4d4d4d;font-weight:700;">0:00</div>
<div class="t" style="left:1594.80px;top:1504.53px;font-size:26.53px;line-height:26.53px;color:#595959;transform:scaleX(1.0346);-webkit-text-stroke:0.25px #ffffff;">8:00 AM</div>
<div class="t" style="left:1773.40px;top:1504.53px;font-size:26.53px;line-height:26.53px;color:#595959;transform:scaleX(1.0026);-webkit-text-stroke:0.25px #ffffff;">6:00 PM</div>
<div class="t" style="left:1963.04px;top:1507.00px;font-size:29.07px;line-height:29.07px;color:#4d4d4d;font-weight:700;transform:scaleX(1.0282);">10:00</div>
<div class="t" style="left:2122.42px;top:1504.53px;font-size:26.53px;line-height:26.53px;color:#595959;transform:scaleX(0.9868);-webkit-text-stroke:0.25px #ffffff;">12:00 PM</div>
<div class="t" style="left:2307.61px;top:1504.53px;font-size:26.53px;line-height:26.53px;color:#595959;transform:scaleX(1.0026);-webkit-text-stroke:0.25px #ffffff;">5:00 PM</div>
<div class="t" style="left:2506.81px;top:1507.00px;font-size:29.07px;line-height:29.07px;color:#4d4d4d;font-weight:700;">5:00</div>
<div class="t" style="left:3041.01px;top:1507.00px;font-size:29.07px;line-height:29.07px;color:#4d4d4d;font-weight:700;">0:00</div>
<div class="t" style="left:3197.43px;top:1504.53px;font-size:26.53px;line-height:26.53px;color:#595959;transform:scaleX(1.0346);-webkit-text-stroke:0.25px #ffffff;">8:00 AM</div>
<div class="t" style="left:3376.03px;top:1504.53px;font-size:26.53px;line-height:26.53px;color:#595959;transform:scaleX(1.0026);-webkit-text-stroke:0.25px #ffffff;">6:00 PM</div>
<div class="t" style="left:3565.67px;top:1507.00px;font-size:29.07px;line-height:29.07px;color:#4d4d4d;font-weight:700;transform:scaleX(1.0282);">10:00</div>
<div class="t" style="left:3725.05px;top:1504.53px;font-size:26.53px;line-height:26.53px;color:#595959;transform:scaleX(0.9868);-webkit-text-stroke:0.25px #ffffff;">12:00 PM</div>
<div class="t" style="left:3910.24px;top:1504.53px;font-size:26.53px;line-height:26.53px;color:#595959;transform:scaleX(1.0026);-webkit-text-stroke:0.25px #ffffff;">5:00 PM</div>
<div class="t" style="left:4109.43px;top:1507.00px;font-size:29.07px;line-height:29.07px;color:#4d4d4d;font-weight:700;">5:00</div>
<div class="t" style="left:137.20px;top:1570.75px;font-size:29.51px;line-height:29.51px;color:#595959;transform:scaleX(1.0736);-webkit-text-stroke:0.3px #ffffff;">Romy Bailey</div>
<div class="t" style="left:904.17px;top:1574.00px;font-size:29.07px;line-height:29.07px;color:#4d4d4d;font-weight:700;">0:00</div>
<div class="t" style="left:1438.38px;top:1574.00px;font-size:29.07px;line-height:29.07px;color:#4d4d4d;font-weight:700;">0:00</div>
<div class="t" style="left:1588.21px;top:1571.53px;font-size:26.53px;line-height:26.53px;color:#595959;transform:scaleX(0.9868);-webkit-text-stroke:0.25px #ffffff;">12:00 PM</div>
<div class="t" style="left:1773.40px;top:1571.53px;font-size:26.53px;line-height:26.53px;color:#595959;transform:scaleX(1.0026);-webkit-text-stroke:0.25px #ffffff;">5:00 PM</div>
<div class="t" style="left:1972.60px;top:1574.00px;font-size:29.07px;line-height:29.07px;color:#4d4d4d;font-weight:700;">5:00</div>
<div class="t" style="left:2506.81px;top:1574.00px;font-size:29.07px;line-height:29.07px;color:#4d4d4d;font-weight:700;">0:00</div>
<div class="t" style="left:3041.01px;top:1574.00px;font-size:29.07px;line-height:29.07px;color:#4d4d4d;font-weight:700;">0:00</div>
<div class="t" style="left:3190.84px;top:1571.53px;font-size:26.53px;line-height:26.53px;color:#595959;transform:scaleX(0.9868);-webkit-text-stroke:0.25px #ffffff;">12:00 PM</div>
<div class="t" style="left:3376.03px;top:1571.53px;font-size:26.53px;line-height:26.53px;color:#595959;transform:scaleX(1.0026);-webkit-text-stroke:0.25px #ffffff;">5:00 PM</div>
<div class="t" style="left:3575.22px;top:1574.00px;font-size:29.07px;line-height:29.07px;color:#4d4d4d;font-weight:700;">5:00</div>
<div class="t" style="left:4109.43px;top:1574.00px;font-size:29.07px;line-height:29.07px;color:#4d4d4d;font-weight:700;">0:00</div>
<div class="t" style="left:526.40px;top:1636.60px;font-size:35.76px;line-height:35.76px;color:#ffffff;font-weight:700;transform:scaleX(0.9965);">Week One Totals</div>
<div class="t" style="left:874.22px;top:1639.60px;font-size:30.52px;line-height:30.52px;color:#4d4d4d;font-weight:700;transform:scaleX(0.9583);">33:30:00</div>
<div class="t" style="left:1408.43px;top:1639.60px;font-size:30.52px;line-height:30.52px;color:#4d4d4d;font-weight:700;transform:scaleX(0.9583);">30:00:00</div>
<div class="t" style="left:1942.64px;top:1639.60px;font-size:30.52px;line-height:30.52px;color:#4d4d4d;font-weight:700;transform:scaleX(0.9583);">31:30:00</div>
<div class="t" style="left:2476.85px;top:1639.60px;font-size:30.52px;line-height:30.52px;color:#4d4d4d;font-weight:700;transform:scaleX(0.9583);">28:30:00</div>
<div class="t" style="left:3011.06px;top:1639.60px;font-size:30.52px;line-height:30.52px;color:#4d4d4d;font-weight:700;transform:scaleX(0.9583);">26:30:00</div>
<div class="t" style="left:3545.27px;top:1639.60px;font-size:30.52px;line-height:30.52px;color:#4d4d4d;font-weight:700;transform:scaleX(0.9583);">33:30:00</div>
<div class="t" style="left:4079.48px;top:1639.60px;font-size:30.52px;line-height:30.52px;color:#4d4d4d;font-weight:700;transform:scaleX(0.9583);">31:00:00</div>
<div class="a" style="left:487px;top:1840px;width:534.21px;height:67px;background:#e9e797;"></div>
<div class="a" style="left:487px;top:1907px;width:534.21px;height:67px;background:#dbd953;"></div>
<div class="a" style="left:1021.21px;top:1840px;width:534.21px;height:67px;background:#e3eaf6;"></div>
<div class="a" style="left:1021.21px;top:1907px;width:534.21px;height:67px;background:#9dc3e6;"></div>
<div class="a" style="left:1555.42px;top:1840px;width:534.21px;height:67px;background:#e9e797;"></div>
<div class="a" style="left:1555.42px;top:1907px;width:534.21px;height:67px;background:#dbd953;"></div>
<div class="a" style="left:2089.63px;top:1840px;width:534.21px;height:67px;background:#e3eaf6;"></div>
<div class="a" style="left:2089.63px;top:1907px;width:534.21px;height:67px;background:#9dc3e6;"></div>
<div class="a" style="left:2623.84px;top:1840px;width:534.21px;height:67px;background:#e9e797;"></div>
<div class="a" style="left:2623.84px;top:1907px;width:534.21px;height:67px;background:#dbd953;"></div>
<div class="a" style="left:3158.05px;top:1840px;width:534.21px;height:67px;background:#e3eaf6;"></div>
<div class="a" style="left:3158.05px;top:1907px;width:534.21px;height:67px;background:#9dc3e6;"></div>
<div class="a" style="left:3692.26px;top:1840px;width:534.21px;height:67px;background:#e9e797;"></div>
<div class="a" style="left:3692.26px;top:1907px;width:534.21px;height:67px;background:#dbd953;"></div>
<div class="a" style="left:105px;top:1974px;width:382px;height:67px;background:#595959;"></div>
<div class="a" style="left:487px;top:1974px;width:3740px;height:67px;background:#7f7f7f;"></div>
<div class="a" style="left:105px;top:2041px;width:4122px;height:469.5px;background:#ffffff;"></div>
<div class="a" style="left:843.14px;top:2041px;width:178.07px;height:469.5px;background:#f2f2f2;"></div>
<div class="a" style="left:1377.35px;top:2041px;width:178.07px;height:469.5px;background:#f2f2f2;"></div>
<div class="a" style="left:1911.56px;top:2041px;width:178.07px;height:469.5px;background:#f2f2f2;"></div>
<div class="a" style="left:2445.77px;top:2041px;width:178.07px;height:469.5px;background:#f2f2f2;"></div>
<div class="a" style="left:2979.98px;top:2041px;width:178.07px;height:469.5px;background:#f2f2f2;"></div>
<div class="a" style="left:3514.19px;top:2041px;width:178.07px;height:469.5px;background:#f2f2f2;"></div>
<div class="a" style="left:4048.4px;top:2041px;width:178.07px;height:469.5px;background:#f2f2f2;"></div>
<div class="a" style="left:105px;top:2510.5px;width:4122px;height:67.5px;background:#595959;"></div>
<div class="a" style="left:843.14px;top:2510.5px;width:178.07px;height:67.5px;background:#f2f2f2;"></div>
<div class="a" style="left:1377.35px;top:2510.5px;width:178.07px;height:67.5px;background:#f2f2f2;"></div>
<div class="a" style="left:1911.56px;top:2510.5px;width:178.07px;height:67.5px;background:#f2f2f2;"></div>
<div class="a" style="left:2445.77px;top:2510.5px;width:178.07px;height:67.5px;background:#f2f2f2;"></div>
<div class="a" style="left:2979.98px;top:2510.5px;width:178.07px;height:67.5px;background:#f2f2f2;"></div>
<div class="a" style="left:3514.19px;top:2510.5px;width:178.07px;height:67.5px;background:#f2f2f2;"></div>
<div class="a" style="left:4048.4px;top:2510.5px;width:178.07px;height:67.5px;background:#f2f2f2;"></div>
<div class="a" style="left:486px;top:1839px;width:3742px;height:2px;background:#bfbfbf;"></div>
<div class="a" style="left:486px;top:1906px;width:3742px;height:2px;background:#bfbfbf;"></div>
<div class="a" style="left:104px;top:1973px;width:4124px;height:3px;background:#bfbfbf;"></div>
<div class="a" style="left:104px;top:2040px;width:4124px;height:2px;background:#bfbfbf;"></div>
<div class="a" style="left:104px;top:2107px;width:4124px;height:2px;background:#bfbfbf;"></div>
<div class="a" style="left:104px;top:2174px;width:4124px;height:2px;background:#bfbfbf;"></div>
<div class="a" style="left:104px;top:2241px;width:4124px;height:2px;background:#bfbfbf;"></div>
<div class="a" style="left:104px;top:2308px;width:4124px;height:2px;background:#bfbfbf;"></div>
<div class="a" style="left:104px;top:2375px;width:4124px;height:2px;background:#bfbfbf;"></div>
<div class="a" style="left:104px;top:2442px;width:4124px;height:2px;background:#bfbfbf;"></div>
<div class="a" style="left:104px;top:2507.5px;width:4126px;height:6.5px;background:#bfbfbf;"></div>
<div class="a" style="left:104px;top:2577px;width:4124px;height:2px;background:#bfbfbf;"></div>
<div class="a" style="left:104px;top:1973px;width:2px;height:606px;background:#bfbfbf;"></div>
<div class="a" style="left:486px;top:1839px;width:2px;height:135px;background:#bfbfbf;"></div>
<div class="a" style="left:1020.21px;top:1839px;width:2px;height:135px;background:#bfbfbf;"></div>
<div class="a" style="left:1554.42px;top:1839px;width:2px;height:135px;background:#bfbfbf;"></div>
<div class="a" style="left:2088.63px;top:1839px;width:2px;height:135px;background:#bfbfbf;"></div>
<div class="a" style="left:2622.84px;top:1839px;width:2px;height:135px;background:#bfbfbf;"></div>
<div class="a" style="left:3157.05px;top:1839px;width:2px;height:135px;background:#bfbfbf;"></div>
<div class="a" style="left:3691.26px;top:1839px;width:2px;height:135px;background:#bfbfbf;"></div>
<div class="a" style="left:4225.47px;top:1839px;width:2px;height:135px;background:#bfbfbf;"></div>
<div class="a" style="left:486px;top:1974px;width:2px;height:536.5px;background:#bfbfbf;"></div>
<div class="a" style="left:664.07px;top:1974px;width:2px;height:536.5px;background:#bfbfbf;"></div>
<div class="a" style="left:842.14px;top:1974px;width:2px;height:604px;background:#bfbfbf;"></div>
<div class="a" style="left:1020.21px;top:1974px;width:2px;height:604px;background:#bfbfbf;"></div>
<div class="a" style="left:1198.28px;top:1974px;width:2px;height:604px;background:#bfbfbf;"></div>
<div class="a" style="left:1376.35px;top:1974px;width:2px;height:604px;background:#bfbfbf;"></div>
<div class="a" style="left:1554.42px;top:1974px;width:2px;height:604px;background:#bfbfbf;"></div>
<div class="a" style="left:1732.49px;top:1974px;width:2px;height:604px;background:#bfbfbf;"></div>
<div class="a" style="left:1910.56px;top:1974px;width:2px;height:604px;background:#bfbfbf;"></div>
<div class="a" style="left:2088.63px;top:1974px;width:2px;height:604px;background:#bfbfbf;"></div>
<div class="a" style="left:2266.7px;top:1974px;width:2px;height:604px;background:#bfbfbf;"></div>
<div class="a" style="left:2444.77px;top:1974px;width:2px;height:604px;background:#bfbfbf;"></div>
<div class="a" style="left:2622.84px;top:1974px;width:2px;height:604px;background:#bfbfbf;"></div>
<div class="a" style="left:2800.91px;top:1974px;width:2px;height:604px;background:#bfbfbf;"></div>
<div class="a" style="left:2978.98px;top:1974px;width:2px;height:604px;background:#bfbfbf;"></div>
<div class="a" style="left:3157.05px;top:1974px;width:2px;height:604px;background:#bfbfbf;"></div>
<div class="a" style="left:3335.12px;top:1974px;width:2px;height:604px;background:#bfbfbf;"></div>
<div class="a" style="left:3513.19px;top:1974px;width:2px;height:604px;background:#bfbfbf;"></div>
<div class="a" style="left:3691.26px;top:1974px;width:2px;height:604px;background:#bfbfbf;"></div>
<div class="a" style="left:3869.33px;top:1974px;width:2px;height:604px;background:#bfbfbf;"></div>
<div class="a" style="left:4047.4px;top:1974px;width:2px;height:604px;background:#bfbfbf;"></div>
<div class="a" style="left:4224px;top:1973px;width:6px;height:539.5px;background:#bfbfbf;"></div>
<div class="a" style="left:4226px;top:2510.5px;width:2px;height:68.5px;background:#bfbfbf;"></div>
<div class="t" style="left:119.20px;top:1871.20px;font-size:72.09px;line-height:72.09px;color:#44546a;transform:scaleX(0.9867);-webkit-text-stroke:1.6px #fefefe;">Week Two</div>
<div class="t" style="left:664.69px;top:1852.30px;font-size:40.12px;line-height:40.12px;color:#595959;transform:scaleX(1.0046);-webkit-text-stroke:0.6px #e9e797;">1/10/2033</div>
<div class="t" style="left:716.28px;top:1922.25px;font-size:36.34px;line-height:36.34px;color:#595959;font-weight:700;transform:scaleX(1.0352);-webkit-text-stroke:0.5px #dbd953;">Mon</div>
<div class="t" style="left:533.20px;top:1993.50px;font-size:30.52px;line-height:30.52px;color:#ffffff;font-weight:700;transform:scaleX(1.0432);">Begin</div>
<div class="t" style="left:725.56px;top:1993.50px;font-size:30.52px;line-height:30.52px;color:#ffffff;font-weight:700;transform:scaleX(0.9741);">End</div>
<div class="t" style="left:889.85px;top:1993.50px;font-size:30.52px;line-height:30.52px;color:#ffffff;font-weight:700;transform:scaleX(0.9647);">Hours</div>
<div class="t" style="left:1198.85px;top:1852.30px;font-size:40.12px;line-height:40.12px;color:#595959;transform:scaleX(1.0222);-webkit-text-stroke:0.6px #e3eaf6;">1/11/2033</div>
<div class="t" style="left:1261.27px;top:1922.25px;font-size:36.34px;line-height:36.34px;color:#595959;font-weight:700;transform:scaleX(0.9197);-webkit-text-stroke:0.5px #9dc3e6;">Tue</div>
<div class="t" style="left:1067.41px;top:1993.50px;font-size:30.52px;line-height:30.52px;color:#ffffff;font-weight:700;transform:scaleX(1.0432);">Begin</div>
<div class="t" style="left:1259.77px;top:1993.50px;font-size:30.52px;line-height:30.52px;color:#ffffff;font-weight:700;transform:scaleX(0.9741);">End</div>
<div class="t" style="left:1424.06px;top:1993.50px;font-size:30.52px;line-height:30.52px;color:#ffffff;font-weight:700;transform:scaleX(0.9647);">Hours</div>
<div class="t" style="left:1733.11px;top:1852.30px;font-size:40.12px;line-height:40.12px;color:#595959;transform:scaleX(1.0046);-webkit-text-stroke:0.6px #e9e797;">1/12/2033</div>
<div class="t" style="left:1785.08px;top:1922.25px;font-size:36.34px;line-height:36.34px;color:#595959;font-weight:700;transform:scaleX(1.0392);-webkit-text-stroke:0.5px #dbd953;">Wed</div>
<div class="t" style="left:1601.62px;top:1993.50px;font-size:30.52px;line-height:30.52px;color:#ffffff;font-weight:700;transform:scaleX(1.0432);">Begin</div>
<div class="t" style="left:1793.98px;top:1993.50px;font-size:30.52px;line-height:30.52px;color:#ffffff;font-weight:700;transform:scaleX(0.9741);">End</div>
<div class="t" style="left:1958.27px;top:1993.50px;font-size:30.52px;line-height:30.52px;color:#ffffff;font-weight:700;transform:scaleX(0.9647);">Hours</div>
<div class="t" style="left:2267.32px;top:1852.30px;font-size:40.12px;line-height:40.12px;color:#595959;transform:scaleX(1.0046);-webkit-text-stroke:0.6px #e3eaf6;">1/13/2033</div>
<div class="t" style="left:2330.99px;top:1922.25px;font-size:36.34px;line-height:36.34px;color:#595959;font-weight:700;transform:scaleX(0.8359);-webkit-text-stroke:0.5px #9dc3e6;">Thu</div>
<div class="t" style="left:2135.83px;top:1993.50px;font-size:30.52px;line-height:30.52px;color:#ffffff;font-weight:700;transform:scaleX(1.0432);">Begin</div>
<div class="t" style="left:2328.19px;top:1993.50px;font-size:30.52px;line-height:30.52px;color:#ffffff;font-weight:700;transform:scaleX(0.9741);">End</div>
<div class="t" style="left:2492.48px;top:1993.50px;font-size:30.52px;line-height:30.52px;color:#ffffff;font-weight:700;transform:scaleX(0.9647);">Hours</div>
<div class="t" style="left:2801.53px;top:1852.30px;font-size:40.12px;line-height:40.12px;color:#595959;transform:scaleX(1.0046);-webkit-text-stroke:0.6px #e9e797;">1/14/2033</div>
<div class="t" style="left:2873.05px;top:1922.25px;font-size:36.34px;line-height:36.34px;color:#595959;font-weight:700;transform:scaleX(0.8214);-webkit-text-stroke:0.5px #dbd953;">Fri</div>
<div class="t" style="left:2670.04px;top:1993.50px;font-size:30.52px;line-height:30.52px;color:#ffffff;font-weight:700;transform:scaleX(1.0432);">Begin</div>
<div class="t" style="left:2862.40px;top:1993.50px;font-size:30.52px;line-height:30.52px;color:#ffffff;font-weight:700;transform:scaleX(0.9741);">End</div>
<div class="t" style="left:3026.69px;top:1993.50px;font-size:30.52px;line-height:30.52px;color:#ffffff;font-weight:700;transform:scaleX(0.9647);">Hours</div>
<div class="t" style="left:3335.74px;top:1852.30px;font-size:40.12px;line-height:40.12px;color:#595959;transform:scaleX(1.0046);-webkit-text-stroke:0.6px #e3eaf6;">1/15/2033</div>
<div class="t" style="left:3400.50px;top:1922.25px;font-size:36.34px;line-height:36.34px;color:#595959;font-weight:700;transform:scaleX(0.9000);-webkit-text-stroke:0.5px #9dc3e6;">Sat</div>
<div class="t" style="left:3204.25px;top:1993.50px;font-size:30.52px;line-height:30.52px;color:#ffffff;font-weight:700;transform:scaleX(1.0432);">Begin</div>
<div class="t" style="left:3396.61px;top:1993.50px;font-size:30.52px;line-height:30.52px;color:#ffffff;font-weight:700;transform:scaleX(0.9741);">End</div>
<div class="t" style="left:3560.90px;top:1993.50px;font-size:30.52px;line-height:30.52px;color:#ffffff;font-weight:700;transform:scaleX(0.9647);">Hours</div>
<div class="t" style="left:3869.95px;top:1852.30px;font-size:40.12px;line-height:40.12px;color:#595959;transform:scaleX(1.0046);-webkit-text-stroke:0.6px #e9e797;">1/16/2033</div>
<div class="t" style="left:3930.95px;top:1922.25px;font-size:36.34px;line-height:36.34px;color:#595959;font-weight:700;transform:scaleX(0.8652);-webkit-text-stroke:0.5px #dbd953;">Sun</div>
<div class="t" style="left:3738.46px;top:1993.50px;font-size:30.52px;line-height:30.52px;color:#ffffff;font-weight:700;transform:scaleX(1.0432);">Begin</div>
<div class="t" style="left:3930.82px;top:1993.50px;font-size:30.52px;line-height:30.52px;color:#ffffff;font-weight:700;transform:scaleX(0.9741);">End</div>
<div class="t" style="left:4095.11px;top:1993.50px;font-size:30.52px;line-height:30.52px;color:#ffffff;font-weight:700;transform:scaleX(0.9647);">Hours</div>
<div class="t" style="left:137.53px;top:1991.00px;font-size:37.79px;line-height:37.79px;color:#ffffff;font-weight:700;transform:scaleX(0.9829);">Employee</div>
<div class="t" style="left:139.35px;top:2058.75px;font-size:29.51px;line-height:29.51px;color:#595959;transform:scaleX(1.1385);-webkit-text-stroke:0.3px #ffffff;">Alexandra Mattson</div>
<div class="t" style="left:526.38px;top:2059.53px;font-size:26.53px;line-height:26.53px;color:#595959;transform:scaleX(1.0346);-webkit-text-stroke:0.25px #ffffff;">8:00 AM</div>
<div class="t" style="left:697.82px;top:2059.53px;font-size:26.53px;line-height:26.53px;color:#595959;transform:scaleX(1.0051);-webkit-text-stroke:0.25px #ffffff;">10:00 AM</div>
<div class="t" style="left:904.17px;top:2062.00px;font-size:29.07px;line-height:29.07px;color:#4d4d4d;font-weight:700;">2:00</div>
<div class="t" style="left:1438.38px;top:2062.00px;font-size:29.07px;line-height:29.07px;color:#4d4d4d;font-weight:700;">0:00</div>
<div class="t" style="left:1972.60px;top:2062.00px;font-size:29.07px;line-height:29.07px;color:#4d4d4d;font-weight:700;">0:00</div>
<div class="t" style="left:2129.01px;top:2059.53px;font-size:26.53px;line-height:26.53px;color:#595959;transform:scaleX(1.0346);-webkit-text-stroke:0.25px #ffffff;">8:00 AM</div>
<div class="t" style="left:2300.45px;top:2059.53px;font-size:26.53px;line-height:26.53px;color:#595959;transform:scaleX(1.0051);-webkit-text-stroke:0.25px #ffffff;">10:00 AM</div>
<div class="t" style="left:2506.81px;top:2062.00px;font-size:29.07px;line-height:29.07px;color:#4d4d4d;font-weight:700;">2:00</div>
<div class="t" style="left:2663.22px;top:2059.53px;font-size:26.53px;line-height:26.53px;color:#595959;transform:scaleX(1.0346);-webkit-text-stroke:0.25px #ffffff;">9:30 AM</div>
<div class="t" style="left:2834.70px;top:2059.53px;font-size:26.53px;line-height:26.53px;color:#595959;transform:scaleX(0.9868);-webkit-text-stroke:0.25px #ffffff;">12:00 PM</div>
<div class="t" style="left:3041.01px;top:2062.00px;font-size:29.07px;line-height:29.07px;color:#4d4d4d;font-weight:700;">2:30</div>
<div class="t" style="left:3575.22px;top:2062.00px;font-size:29.07px;line-height:29.07px;color:#4d4d4d;font-weight:700;">0:00</div>
<div class="t" style="left:3731.64px;top:2059.53px;font-size:26.53px;line-height:26.53px;color:#595959;transform:scaleX(1.0346);-webkit-text-stroke:0.25px #ffffff;">8:00 AM</div>
<div class="t" style="left:3903.08px;top:2059.53px;font-size:26.53px;line-height:26.53px;color:#595959;transform:scaleX(1.0051);-webkit-text-stroke:0.25px #ffffff;">10:00 AM</div>
<div class="t" style="left:4109.43px;top:2062.00px;font-size:29.07px;line-height:29.07px;color:#4d4d4d;font-weight:700;">2:00</div>
<div class="t" style="left:139.35px;top:2125.75px;font-size:29.51px;line-height:29.51px;color:#595959;transform:scaleX(1.0957);-webkit-text-stroke:0.3px #ffffff;">Aviv Perez</div>
<div class="t" style="left:526.38px;top:2126.53px;font-size:26.53px;line-height:26.53px;color:#595959;transform:scaleX(1.0346);-webkit-text-stroke:0.25px #ffffff;">9:30 AM</div>
<div class="t" style="left:697.86px;top:2126.53px;font-size:26.53px;line-height:26.53px;color:#595959;transform:scaleX(0.9868);-webkit-text-stroke:0.25px #ffffff;">12:00 PM</div>
<div class="t" style="left:904.17px;top:2129.00px;font-size:29.07px;line-height:29.07px;color:#4d4d4d;font-weight:700;">2:30</div>
<div class="t" style="left:1060.59px;top:2126.53px;font-size:26.53px;line-height:26.53px;color:#595959;transform:scaleX(1.0346);-webkit-text-stroke:0.25px #ffffff;">8:00 AM</div>
<div class="t" style="left:1239.19px;top:2126.53px;font-size:26.53px;line-height:26.53px;color:#595959;transform:scaleX(1.0026);-webkit-text-stroke:0.25px #ffffff;">6:00 PM</div>
<div class="t" style="left:1428.83px;top:2129.00px;font-size:29.07px;line-height:29.07px;color:#4d4d4d;font-weight:700;transform:scaleX(1.0282);">10:00</div>
<div class="t" style="left:1972.60px;top:2129.00px;font-size:29.07px;line-height:29.07px;color:#4d4d4d;font-weight:700;">0:00</div>
<div class="t" style="left:2129.01px;top:2126.53px;font-size:26.53px;line-height:26.53px;color:#595959;transform:scaleX(1.0346);-webkit-text-stroke:0.25px #ffffff;">9:30 AM</div>
<div class="t" style="left:2300.49px;top:2126.53px;font-size:26.53px;line-height:26.53px;color:#595959;transform:scaleX(0.9868);-webkit-text-stroke:0.25px #ffffff;">12:00 PM</div>
<div class="t" style="left:2506.81px;top:2129.00px;font-size:29.07px;line-height:29.07px;color:#4d4d4d;font-weight:700;">2:30</div>
<div class="t" style="left:2663.22px;top:2126.53px;font-size:26.53px;line-height:26.53px;color:#595959;transform:scaleX(1.0346);-webkit-text-stroke:0.25px #ffffff;">8:00 AM</div>
<div class="t" style="left:2841.82px;top:2126.53px;font-size:26.53px;line-height:26.53px;color:#595959;transform:scaleX(1.0026);-webkit-text-stroke:0.25px #ffffff;">5:00 PM</div>
<div class="t" style="left:3041.01px;top:2129.00px;font-size:29.07px;line-height:29.07px;color:#4d4d4d;font-weight:700;">9:00</div>
<div class="t" style="left:3197.43px;top:2126.53px;font-size:26.53px;line-height:26.53px;color:#595959;transform:scaleX(1.0346);-webkit-text-stroke:0.25px #ffffff;">8:00 AM</div>
<div class="t" style="left:3368.87px;top:2126.53px;font-size:26.53px;line-height:26.53px;color:#595959;transform:scaleX(1.0051);-webkit-text-stroke:0.25px #ffffff;">10:00 AM</div>
<div class="t" style="left:3575.22px;top:2129.00px;font-size:29.07px;line-height:29.07px;color:#4d4d4d;font-weight:700;">2:00</div>
<div class="t" style="left:4109.43px;top:2129.00px;font-size:29.07px;line-height:29.07px;color:#4d4d4d;font-weight:700;">0:00</div>
<div class="t" style="left:137.09px;top:2192.75px;font-size:29.51px;line-height:29.51px;color:#595959;transform:scaleX(1.1322);-webkit-text-stroke:0.3px #ffffff;">Brian Gorman</div>
<div class="t" style="left:526.38px;top:2193.53px;font-size:26.53px;line-height:26.53px;color:#595959;transform:scaleX(1.0346);-webkit-text-stroke:0.25px #ffffff;">8:00 AM</div>
<div class="t" style="left:704.98px;top:2193.53px;font-size:26.53px;line-height:26.53px;color:#595959;transform:scaleX(1.0026);-webkit-text-stroke:0.25px #ffffff;">5:00 PM</div>
<div class="t" style="left:904.17px;top:2196.00px;font-size:29.07px;line-height:29.07px;color:#4d4d4d;font-weight:700;">9:00</div>
<div class="t" style="left:1438.38px;top:2196.00px;font-size:29.07px;line-height:29.07px;color:#4d4d4d;font-weight:700;">0:00</div>
<div class="t" style="left:1594.80px;top:2193.53px;font-size:26.53px;line-height:26.53px;color:#595959;transform:scaleX(1.0346);-webkit-text-stroke:0.25px #ffffff;">9:30 AM</div>
<div class="t" style="left:1766.28px;top:2193.53px;font-size:26.53px;line-height:26.53px;color:#595959;transform:scaleX(0.9868);-webkit-text-stroke:0.25px #ffffff;">12:00 PM</div>
<div class="t" style="left:1972.60px;top:2196.00px;font-size:29.07px;line-height:29.07px;color:#4d4d4d;font-weight:700;">2:30</div>
<div class="t" style="left:2129.01px;top:2193.53px;font-size:26.53px;line-height:26.53px;color:#595959;transform:scaleX(1.0346);-webkit-text-stroke:0.25px #ffffff;">8:00 AM</div>
<div class="t" style="left:2307.61px;top:2193.53px;font-size:26.53px;line-height:26.53px;color:#595959;transform:scaleX(1.0026);-webkit-text-stroke:0.25px #ffffff;">5:00 PM</div>
<div class="t" style="left:2506.81px;top:2196.00px;font-size:29.07px;line-height:29.07px;color:#4d4d4d;font-weight:700;">9:00</div>
<div class="t" style="left:2656.63px;top:2193.53px;font-size:26.53px;line-height:26.53px;color:#595959;transform:scaleX(0.9868);-webkit-text-stroke:0.25px #ffffff;">12:00 PM</div>
<div class="t" style="left:2841.82px;top:2193.53px;font-size:26.53px;line-height:26.53px;color:#595959;transform:scaleX(1.0026);-webkit-text-stroke:0.25px #ffffff;">5:00 PM</div>
<div class="t" style="left:3041.01px;top:2196.00px;font-size:29.07px;line-height:29.07px;color:#4d4d4d;font-weight:700;">5:00</div>
<div class="t" style="left:3197.43px;top:2193.53px;font-size:26.53px;line-height:26.53px;color:#595959;transform:scaleX(1.0346);-webkit-text-stroke:0.25px #ffffff;">9:30 AM</div>
<div class="t" style="left:3368.91px;top:2193.53px;font-size:26.53px;line-height:26.53px;color:#595959;transform:scaleX(0.9868);-webkit-text-stroke:0.25px #ffffff;">12:00 PM</div>
<div class="t" style="left:3575.22px;top:2196.00px;font-size:29.07px;line-height:29.07px;color:#4d4d4d;font-weight:700;">2:30</div>
<div class="t" style="left:3731.64px;top:2193.53px;font-size:26.53px;line-height:26.53px;color:#595959;transform:scaleX(1.0346);-webkit-text-stroke:0.25px #ffffff;">8:00 AM</div>
<div class="t" style="left:3910.24px;top:2193.53px;font-size:26.53px;line-height:26.53px;color:#595959;transform:scaleX(1.0026);-webkit-text-stroke:0.25px #ffffff;">5:00 PM</div>
<div class="t" style="left:4109.43px;top:2196.00px;font-size:29.07px;line-height:29.07px;color:#4d4d4d;font-weight:700;">9:00</div>
<div class="t" style="left:137.18px;top:2259.75px;font-size:29.51px;line-height:29.51px;color:#595959;transform:scaleX(1.0855);-webkit-text-stroke:0.3px #ffffff;">Brooklyn Jansen</div>
<div class="t" style="left:519.79px;top:2260.53px;font-size:26.53px;line-height:26.53px;color:#595959;transform:scaleX(0.9868);-webkit-text-stroke:0.25px #ffffff;">12:00 PM</div>
<div class="t" style="left:704.98px;top:2260.53px;font-size:26.53px;line-height:26.53px;color:#595959;transform:scaleX(1.0026);-webkit-text-stroke:0.25px #ffffff;">5:00 PM</div>
<div class="t" style="left:904.17px;top:2263.00px;font-size:29.07px;line-height:29.07px;color:#4d4d4d;font-weight:700;">5:00</div>
<div class="t" style="left:1060.59px;top:2260.53px;font-size:26.53px;line-height:26.53px;color:#595959;transform:scaleX(1.0346);-webkit-text-stroke:0.25px #ffffff;">8:00 AM</div>
<div class="t" style="left:1239.19px;top:2260.53px;font-size:26.53px;line-height:26.53px;color:#595959;transform:scaleX(1.0026);-webkit-text-stroke:0.25px #ffffff;">6:00 PM</div>
<div class="t" style="left:1428.83px;top:2263.00px;font-size:29.07px;line-height:29.07px;color:#4d4d4d;font-weight:700;transform:scaleX(1.0282);">10:00</div>
<div class="t" style="left:1594.80px;top:2260.53px;font-size:26.53px;line-height:26.53px;color:#595959;transform:scaleX(1.0346);-webkit-text-stroke:0.25px #ffffff;">8:00 AM</div>
<div class="t" style="left:1773.40px;top:2260.53px;font-size:26.53px;line-height:26.53px;color:#595959;transform:scaleX(1.0026);-webkit-text-stroke:0.25px #ffffff;">5:00 PM</div>
<div class="t" style="left:1972.60px;top:2263.00px;font-size:29.07px;line-height:29.07px;color:#4d4d4d;font-weight:700;">9:00</div>
<div class="t" style="left:2506.81px;top:2263.00px;font-size:29.07px;line-height:29.07px;color:#4d4d4d;font-weight:700;">0:00</div>
<div class="t" style="left:2663.22px;top:2260.53px;font-size:26.53px;line-height:26.53px;color:#595959;transform:scaleX(1.0346);-webkit-text-stroke:0.25px #ffffff;">8:00 AM</div>
<div class="t" style="left:2841.82px;top:2260.53px;font-size:26.53px;line-height:26.53px;color:#595959;transform:scaleX(1.0026);-webkit-text-stroke:0.25px #ffffff;">6:00 PM</div>
<div class="t" style="left:3031.46px;top:2263.00px;font-size:29.07px;line-height:29.07px;color:#4d4d4d;font-weight:700;transform:scaleX(1.0282);">10:00</div>
<div class="t" style="left:3197.43px;top:2260.53px;font-size:26.53px;line-height:26.53px;color:#595959;transform:scaleX(1.0346);-webkit-text-stroke:0.25px #ffffff;">8:00 AM</div>
<div class="t" style="left:3376.03px;top:2260.53px;font-size:26.53px;line-height:26.53px;color:#595959;transform:scaleX(1.0026);-webkit-text-stroke:0.25px #ffffff;">5:00 PM</div>
<div class="t" style="left:3575.22px;top:2263.00px;font-size:29.07px;line-height:29.07px;color:#4d4d4d;font-weight:700;">9:00</div>
<div class="t" style="left:3725.05px;top:2260.53px;font-size:26.53px;line-height:26.53px;color:#595959;transform:scaleX(0.9868);-webkit-text-stroke:0.25px #ffffff;">12:00 PM</div>
<div class="t" style="left:3910.24px;top:2260.53px;font-size:26.53px;line-height:26.53px;color:#595959;transform:scaleX(1.0026);-webkit-text-stroke:0.25px #ffffff;">5:00 PM</div>
<div class="t" style="left:4109.43px;top:2263.00px;font-size:29.07px;line-height:29.07px;color:#4d4d4d;font-weight:700;">5:00</div>
<div class="t" style="left:138.21px;top:2326.75px;font-size:29.51px;line-height:29.51px;color:#595959;transform:scaleX(1.1394);-webkit-text-stroke:0.3px #ffffff;">Carmen Robertson</div>
<div class="t" style="left:526.38px;top:2327.53px;font-size:26.53px;line-height:26.53px;color:#595959;transform:scaleX(1.0346);-webkit-text-stroke:0.25px #ffffff;">8:00 AM</div>
<div class="t" style="left:704.98px;top:2327.53px;font-size:26.53px;line-height:26.53px;color:#595959;transform:scaleX(1.0026);-webkit-text-stroke:0.25px #ffffff;">6:00 PM</div>
<div class="t" style="left:894.62px;top:2330.00px;font-size:29.07px;line-height:29.07px;color:#4d4d4d;font-weight:700;transform:scaleX(1.0282);">10:00</div>
<div class="t" style="left:1060.59px;top:2327.53px;font-size:26.53px;line-height:26.53px;color:#595959;transform:scaleX(1.0346);-webkit-text-stroke:0.25px #ffffff;">8:00 AM</div>
<div class="t" style="left:1239.19px;top:2327.53px;font-size:26.53px;line-height:26.53px;color:#595959;transform:scaleX(1.0026);-webkit-text-stroke:0.25px #ffffff;">6:00 PM</div>
<div class="t" style="left:1428.83px;top:2330.00px;font-size:29.07px;line-height:29.07px;color:#4d4d4d;font-weight:700;transform:scaleX(1.0282);">10:00</div>
<div class="t" style="left:1588.21px;top:2327.53px;font-size:26.53px;line-height:26.53px;color:#595959;transform:scaleX(0.9868);-webkit-text-stroke:0.25px #ffffff;">12:00 PM</div>
<div class="t" style="left:1773.40px;top:2327.53px;font-size:26.53px;line-height:26.53px;color:#595959;transform:scaleX(1.0026);-webkit-text-stroke:0.25px #ffffff;">5:00 PM</div>
<div class="t" style="left:1972.60px;top:2330.00px;font-size:29.07px;line-height:29.07px;color:#4d4d4d;font-weight:700;">5:00</div>
<div class="t" style="left:2129.01px;top:2327.53px;font-size:26.53px;line-height:26.53px;color:#595959;transform:scaleX(1.0346);-webkit-text-stroke:0.25px #ffffff;">8:00 AM</div>
<div class="t" style="left:2307.61px;top:2327.53px;font-size:26.53px;line-height:26.53px;color:#595959;transform:scaleX(1.0026);-webkit-text-stroke:0.25px #ffffff;">6:00 PM</div>
<div class="t" style="left:2497.25px;top:2330.00px;font-size:29.07px;line-height:29.07px;color:#4d4d4d;font-weight:700;transform:scaleX(1.0282);">10:00</div>
<div class="t" style="left:3041.01px;top:2330.00px;font-size:29.07px;line-height:29.07px;color:#4d4d4d;font-weight:700;">0:00</div>
<div class="t" style="left:3190.84px;top:2327.53px;font-size:26.53px;line-height:26.53px;color:#595959;transform:scaleX(0.9868);-webkit-text-stroke:0.25px #ffffff;">12:00 PM</div>
<div class="t" style="left:3376.03px;top:2327.53px;font-size:26.53px;line-height:26.53px;color:#595959;transform:scaleX(1.0026);-webkit-text-stroke:0.25px #ffffff;">5:00 PM</div>
<div class="t" style="left:3575.22px;top:2330.00px;font-size:29.07px;line-height:29.07px;color:#4d4d4d;font-weight:700;">5:00</div>
<div class="t" style="left:3731.64px;top:2327.53px;font-size:26.53px;line-height:26.53px;color:#595959;transform:scaleX(1.0346);-webkit-text-stroke:0.25px #ffffff;">8:00 AM</div>
<div class="t" style="left:3910.24px;top:2327.53px;font-size:26.53px;line-height:26.53px;color:#595959;transform:scaleX(1.0026);-webkit-text-stroke:0.25px #ffffff;">6:00 PM</div>
<div class="t" style="left:4099.88px;top:2330.00px;font-size:29.07px;line-height:29.07px;color:#4d4d4d;font-weight:700;transform:scaleX(1.0282);">10:00</div>
<div class="t" style="left:137.08px;top:2393.75px;font-size:29.51px;line-height:29.51px;color:#595959;transform:scaleX(1.1331);-webkit-text-stroke:0.3px #ffffff;">Lori Garcia</div>
<div class="t" style="left:519.79px;top:2394.53px;font-size:26.53px;line-height:26.53px;color:#595959;transform:scaleX(0.9868);-webkit-text-stroke:0.25px #ffffff;">12:00 PM</div>
<div class="t" style="left:704.98px;top:2394.53px;font-size:26.53px;line-height:26.53px;color:#595959;transform:scaleX(1.0026);-webkit-text-stroke:0.25px #ffffff;">5:00 PM</div>
<div class="t" style="left:904.17px;top:2397.00px;font-size:29.07px;line-height:29.07px;color:#4d4d4d;font-weight:700;">5:00</div>
<div class="t" style="left:1438.38px;top:2397.00px;font-size:29.07px;line-height:29.07px;color:#4d4d4d;font-weight:700;">0:00</div>
<div class="t" style="left:1594.80px;top:2394.53px;font-size:26.53px;line-height:26.53px;color:#595959;transform:scaleX(1.0346);-webkit-text-stroke:0.25px #ffffff;">8:00 AM</div>
<div class="t" style="left:1773.40px;top:2394.53px;font-size:26.53px;line-height:26.53px;color:#595959;transform:scaleX(1.0026);-webkit-text-stroke:0.25px #ffffff;">6:00 PM</div>
<div class="t" style="left:1963.04px;top:2397.00px;font-size:29.07px;line-height:29.07px;color:#4d4d4d;font-weight:700;transform:scaleX(1.0282);">10:00</div>
<div class="t" style="left:2122.42px;top:2394.53px;font-size:26.53px;line-height:26.53px;color:#595959;transform:scaleX(0.9868);-webkit-text-stroke:0.25px #ffffff;">12:00 PM</div>
<div class="t" style="left:2307.61px;top:2394.53px;font-size:26.53px;line-height:26.53px;color:#595959;transform:scaleX(1.0026);-webkit-text-stroke:0.25px #ffffff;">5:00 PM</div>
<div class="t" style="left:2506.81px;top:2397.00px;font-size:29.07px;line-height:29.07px;color:#4d4d4d;font-weight:700;">5:00</div>
<div class="t" style="left:3041.01px;top:2397.00px;font-size:29.07px;line-height:29.07px;color:#4d4d4d;font-weight:700;">0:00</div>
<div class="t" style="left:3197.43px;top:2394.53px;font-size:26.53px;line-height:26.53px;color:#595959;transform:scaleX(1.0346);-webkit-text-stroke:0.25px #ffffff;">8:00 AM</div>
<div class="t" style="left:3376.03px;top:2394.53px;font-size:26.53px;line-height:26.53px;color:#595959;transform:scaleX(1.0026);-webkit-text-stroke:0.25px #ffffff;">6:00 PM</div>
<div class="t" style="left:3565.67px;top:2397.00px;font-size:29.07px;line-height:29.07px;color:#4d4d4d;font-weight:700;transform:scaleX(1.0282);">10:00</div>
<div class="t" style="left:3725.05px;top:2394.53px;font-size:26.53px;line-height:26.53px;color:#595959;transform:scaleX(0.9868);-webkit-text-stroke:0.25px #ffffff;">12:00 PM</div>
<div class="t" style="left:3910.24px;top:2394.53px;font-size:26.53px;line-height:26.53px;color:#595959;transform:scaleX(1.0026);-webkit-text-stroke:0.25px #ffffff;">5:00 PM</div>
<div class="t" style="left:4109.43px;top:2397.00px;font-size:29.07px;line-height:29.07px;color:#4d4d4d;font-weight:700;">5:00</div>
<div class="t" style="left:137.20px;top:2460.75px;font-size:29.51px;line-height:29.51px;color:#595959;transform:scaleX(1.0736);-webkit-text-stroke:0.3px #ffffff;">Romy Bailey</div>
<div class="t" style="left:904.17px;top:2464.00px;font-size:29.07px;line-height:29.07px;color:#4d4d4d;font-weight:700;">0:00</div>
<div class="t" style="left:1438.38px;top:2464.00px;font-size:29.07px;line-height:29.07px;color:#4d4d4d;font-weight:700;">0:00</div>
<div class="t" style="left:1588.21px;top:2461.53px;font-size:26.53px;line-height:26.53px;color:#595959;transform:scaleX(0.9868);-webkit-text-stroke:0.25px #ffffff;">12:00 PM</div>
<div class="t" style="left:1773.40px;top:2461.53px;font-size:26.53px;line-height:26.53px;color:#595959;transform:scaleX(1.0026);-webkit-text-stroke:0.25px #ffffff;">5:00 PM</div>
<div class="t" style="left:1972.60px;top:2464.00px;font-size:29.07px;line-height:29.07px;color:#4d4d4d;font-weight:700;">5:00</div>
<div class="t" style="left:2506.81px;top:2464.00px;font-size:29.07px;line-height:29.07px;color:#4d4d4d;font-weight:700;">0:00</div>
<div class="t" style="left:3041.01px;top:2464.00px;font-size:29.07px;line-height:29.07px;color:#4d4d4d;font-weight:700;">0:00</div>
<div class="t" style="left:3190.84px;top:2461.53px;font-size:26.53px;line-height:26.53px;color:#595959;transform:scaleX(0.9868);-webkit-text-stroke:0.25px #ffffff;">12:00 PM</div>
<div class="t" style="left:3376.03px;top:2461.53px;font-size:26.53px;line-height:26.53px;color:#595959;transform:scaleX(1.0026);-webkit-text-stroke:0.25px #ffffff;">5:00 PM</div>
<div class="t" style="left:3575.22px;top:2464.00px;font-size:29.07px;line-height:29.07px;color:#4d4d4d;font-weight:700;">5:00</div>
<div class="t" style="left:4109.43px;top:2464.00px;font-size:29.07px;line-height:29.07px;color:#4d4d4d;font-weight:700;">0:00</div>
<div class="t" style="left:535.40px;top:2526.60px;font-size:35.76px;line-height:35.76px;color:#ffffff;font-weight:700;transform:scaleX(0.9682);">Week Two Totals</div>
<div class="t" style="left:874.22px;top:2529.60px;font-size:30.52px;line-height:30.52px;color:#4d4d4d;font-weight:700;transform:scaleX(0.9583);">33:30:00</div>
<div class="t" style="left:1408.43px;top:2529.60px;font-size:30.52px;line-height:30.52px;color:#4d4d4d;font-weight:700;transform:scaleX(0.9583);">30:00:00</div>
<div class="t" style="left:1942.64px;top:2529.60px;font-size:30.52px;line-height:30.52px;color:#4d4d4d;font-weight:700;transform:scaleX(0.9583);">31:30:00</div>
<div class="t" style="left:2476.85px;top:2529.60px;font-size:30.52px;line-height:30.52px;color:#4d4d4d;font-weight:700;transform:scaleX(0.9583);">28:30:00</div>
<div class="t" style="left:3011.06px;top:2529.60px;font-size:30.52px;line-height:30.52px;color:#4d4d4d;font-weight:700;transform:scaleX(0.9583);">26:30:00</div>
<div class="t" style="left:3545.27px;top:2529.60px;font-size:30.52px;line-height:30.52px;color:#4d4d4d;font-weight:700;transform:scaleX(0.9583);">33:30:00</div>
<div class="t" style="left:4079.48px;top:2529.60px;font-size:30.52px;line-height:30.52px;color:#4d4d4d;font-weight:700;transform:scaleX(0.9583);">31:00:00</div>
<div class="a" style="left:105px;top:2624px;width:4122px;height:66.5px;background:#44546a;"></div>
<div class="a" style="left:843.14px;top:2624px;width:178.07px;height:66.5px;background:#dde8f5;"></div>
<div class="a" style="left:1377.35px;top:2624px;width:178.07px;height:66.5px;background:#dde8f5;"></div>
<div class="a" style="left:1911.56px;top:2624px;width:178.07px;height:66.5px;background:#dde8f5;"></div>
<div class="a" style="left:2445.77px;top:2624px;width:178.07px;height:66.5px;background:#dde8f5;"></div>
<div class="a" style="left:2979.98px;top:2624px;width:178.07px;height:66.5px;background:#dde8f5;"></div>
<div class="a" style="left:3514.19px;top:2624px;width:178.07px;height:66.5px;background:#dde8f5;"></div>
<div class="a" style="left:4048.4px;top:2624px;width:178.07px;height:66.5px;background:#dde8f5;"></div>
<div class="a" style="left:104px;top:2623px;width:4124px;height:2px;background:#bfbfbf;"></div>
<div class="a" style="left:104px;top:2689.5px;width:4124px;height:2px;background:#bfbfbf;"></div>
<div class="a" style="left:104px;top:2623px;width:2px;height:68.5px;background:#bfbfbf;"></div>
<div class="a" style="left:842.14px;top:2624px;width:2px;height:66.5px;background:#bfbfbf;"></div>
<div class="a" style="left:1020.21px;top:2624px;width:2px;height:66.5px;background:#bfbfbf;"></div>
<div class="a" style="left:1198.28px;top:2624px;width:2px;height:66.5px;background:#bfbfbf;"></div>
<div class="a" style="left:1376.35px;top:2624px;width:2px;height:66.5px;background:#bfbfbf;"></div>
<div class="a" style="left:1554.42px;top:2624px;width:2px;height:66.5px;background:#bfbfbf;"></div>
<div class="a" style="left:1732.49px;top:2624px;width:2px;height:66.5px;background:#bfbfbf;"></div>
<div class="a" style="left:1910.56px;top:2624px;width:2px;height:66.5px;background:#bfbfbf;"></div>
<div class="a" style="left:2088.63px;top:2624px;width:2px;height:66.5px;background:#bfbfbf;"></div>
<div class="a" style="left:2266.7px;top:2624px;width:2px;height:66.5px;background:#bfbfbf;"></div>
<div class="a" style="left:2444.77px;top:2624px;width:2px;height:66.5px;background:#bfbfbf;"></div>
<div class="a" style="left:2622.84px;top:2624px;width:2px;height:66.5px;background:#bfbfbf;"></div>
<div class="a" style="left:2800.91px;top:2624px;width:2px;height:66.5px;background:#bfbfbf;"></div>
<div class="a" style="left:2978.98px;top:2624px;width:2px;height:66.5px;background:#bfbfbf;"></div>
<div class="a" style="left:3157.05px;top:2624px;width:2px;height:66.5px;background:#bfbfbf;"></div>
<div class="a" style="left:3335.12px;top:2624px;width:2px;height:66.5px;background:#bfbfbf;"></div>
<div class="a" style="left:3513.19px;top:2624px;width:2px;height:66.5px;background:#bfbfbf;"></div>
<div class="a" style="left:3691.26px;top:2624px;width:2px;height:66.5px;background:#bfbfbf;"></div>
<div class="a" style="left:3869.33px;top:2624px;width:2px;height:66.5px;background:#bfbfbf;"></div>
<div class="a" style="left:4047.4px;top:2624px;width:2px;height:66.5px;background:#bfbfbf;"></div>
<div class="a" style="left:4225.47px;top:2624px;width:2px;height:66.5px;background:#bfbfbf;"></div>
<div class="t" style="left:534.01px;top:2638.30px;font-size:35.32px;line-height:35.32px;color:#ffffff;font-weight:700;transform:scaleX(0.9928);">Bi-Weekly Totals</div>
<div class="t" style="left:874.22px;top:2642.30px;font-size:30.52px;line-height:30.52px;color:#4d4d4d;font-weight:700;transform:scaleX(0.9583);">67:00:00</div>
<div class="t" style="left:1408.43px;top:2642.30px;font-size:30.52px;line-height:30.52px;color:#4d4d4d;font-weight:700;transform:scaleX(0.9583);">60:00:00</div>
<div class="t" style="left:1942.64px;top:2642.30px;font-size:30.52px;line-height:30.52px;color:#4d4d4d;font-weight:700;transform:scaleX(0.9583);">63:00:00</div>
<div class="t" style="left:2476.85px;top:2642.30px;font-size:30.52px;line-height:30.52px;color:#4d4d4d;font-weight:700;transform:scaleX(0.9583);">57:00:00</div>
<div class="t" style="left:3011.06px;top:2642.30px;font-size:30.52px;line-height:30.52px;color:#4d4d4d;font-weight:700;transform:scaleX(0.9583);">53:00:00</div>
<div class="t" style="left:3545.27px;top:2642.30px;font-size:30.52px;line-height:30.52px;color:#4d4d4d;font-weight:700;transform:scaleX(0.9583);">67:00:00</div>
<div class="t" style="left:4079.48px;top:2642.30px;font-size:30.52px;line-height:30.52px;color:#4d4d4d;font-weight:700;transform:scaleX(0.9583);">62:00:00</div>
</body></html>
